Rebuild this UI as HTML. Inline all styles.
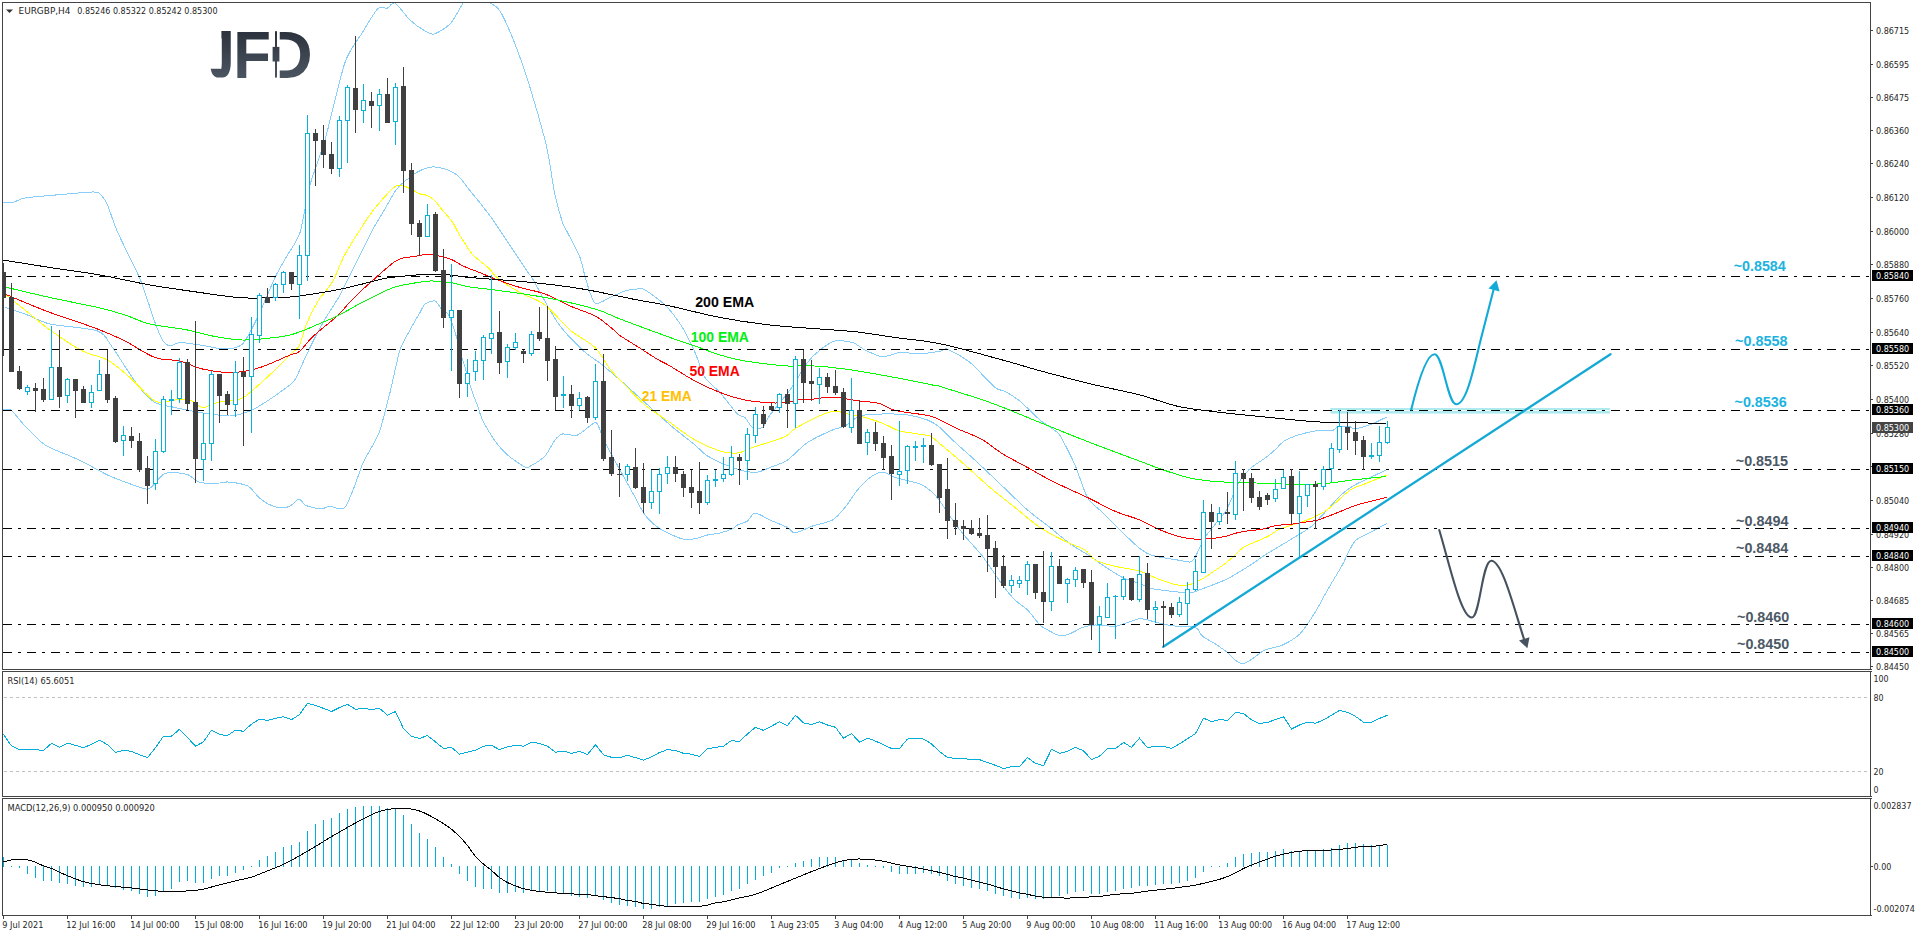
<!DOCTYPE html>
<html lang="en"><head><meta charset="utf-8"><title>EURGBP H4 chart</title>
<style>html,body{margin:0;padding:0;background:#fff;overflow:hidden}svg{display:block}text{font-family:"Liberation Sans", sans-serif;}text.s{font-family:"DejaVu Sans","Liberation Sans",sans-serif;}</style></head><body>
<svg width="1916" height="936" viewBox="0 0 1916 936">
<rect width="1916" height="936" fill="#fff"/>
<defs>
<clipPath id="cm"><rect x="3" y="3" width="1867" height="666"/></clipPath>
<clipPath id="cj"><polygon points="221.4,25 236,25 236,85 205,85 205,68.8 221.4,68.8"/></clipPath>
<clipPath id="cd"><rect x="279.75" y="20" width="40" height="70"/></clipPath>
<linearGradient id="lg" gradientUnits="userSpaceOnUse" x1="0" y1="31" x2="0" y2="78"><stop offset="0" stop-color="#2c323d"/><stop offset="1" stop-color="#4b5561"/></linearGradient>
<filter id="thick" x="-20%" y="-5%" width="140%" height="110%"><feMorphology operator="dilate" radius="2 0"/></filter>
</defs>
<g clip-path="url(#cm)">
<path fill="none" stroke="#87cefa" stroke-width="1" shape-rendering="crispEdges" d="M3.00,203.00C4.27,202.93 9.57,203.17 12.50,202.50C15.43,201.83 20.00,198.93 25.00,198.00C30.00,197.07 41.00,196.30 50.00,195.50C59.00,194.70 85.83,192.20 92.50,192.00C99.17,191.80 98.00,192.27 100.00,194.00C102.00,195.73 105.17,199.93 107.50,205.00C109.83,210.07 113.17,222.13 117.50,232.00C121.83,241.87 135.00,266.93 140.00,279.00C145.00,291.07 152.00,314.37 155.00,322.50C158.00,330.63 160.50,336.87 162.50,340.00C164.50,343.13 167.67,345.67 170.00,346.00C172.33,346.33 176.00,342.63 180.00,342.50C184.00,342.37 194.00,344.13 200.00,345.00C206.00,345.87 219.33,349.13 225.00,349.00C230.67,348.87 238.17,348.20 242.50,344.00C246.83,339.80 253.17,326.37 257.50,317.50C261.83,308.63 271.00,285.83 275.00,277.50C279.00,269.17 284.17,261.00 287.50,255.00C290.83,249.00 297.00,241.83 300.00,232.50C303.00,223.17 306.67,197.33 310.00,185.00C313.33,172.67 320.33,156.33 325.00,140.00C329.67,123.67 340.00,76.83 345.00,62.50C350.00,48.17 358.17,39.63 362.50,32.50C366.83,25.37 374.17,12.27 377.50,9.00C380.83,5.73 385.17,8.80 387.50,8.00C389.83,7.20 392.00,1.40 395.00,3.00C398.00,4.60 406.00,16.27 410.00,20.00C414.00,23.73 421.80,29.13 425.00,31.00C428.20,32.87 430.67,34.93 434.00,34.00C437.33,33.07 446.20,28.00 450.00,24.00C453.80,20.00 460.37,7.60 462.50,4.00C464.63,0.40 462.87,-2.07 466.00,-3.00C469.13,-3.93 482.80,-3.73 486.00,-3.00C489.20,-2.27 488.13,0.63 490.00,2.50C491.87,4.37 496.67,5.47 500.00,11.00C503.33,16.53 511.00,33.80 515.00,44.00C519.00,54.20 526.00,74.70 530.00,87.50C534.00,100.30 542.33,129.67 545.00,140.00C547.67,150.33 548.67,157.67 550.00,165.00C551.33,172.33 553.33,187.33 555.00,195.00C556.67,202.67 560.83,217.50 562.50,222.50C564.17,227.50 565.17,227.83 567.50,232.50C569.83,237.17 577.53,251.17 580.00,257.50C582.47,263.83 584.00,273.93 586.00,280.00C588.00,286.07 591.80,300.67 595.00,303.00C598.20,305.33 606.00,299.10 610.00,297.50C614.00,295.90 621.33,292.13 625.00,291.00C628.67,289.87 634.83,289.13 637.50,289.00C640.17,288.87 641.33,287.87 645.00,290.00C648.67,292.13 660.00,300.00 665.00,305.00C670.00,310.00 678.50,321.17 682.50,327.50C686.50,333.83 692.00,345.83 695.00,352.50C698.00,359.17 701.67,372.17 705.00,377.50C708.33,382.83 715.67,387.63 720.00,392.50C724.33,397.37 734.17,410.67 737.50,414.00C740.83,417.33 743.00,415.70 745.00,417.50C747.00,419.30 750.17,426.17 752.50,427.50C754.83,428.83 760.17,429.17 762.50,427.50C764.83,425.83 766.33,420.00 770.00,415.00C773.67,410.00 785.00,397.00 790.00,390.00C795.00,383.00 803.50,367.83 807.50,362.50C811.50,357.17 816.33,352.87 820.00,350.00C823.67,347.13 830.67,342.00 835.00,341.00C839.33,340.00 848.50,341.30 852.50,342.50C856.50,343.70 861.00,348.10 865.00,350.00C869.00,351.90 877.83,356.42 882.50,356.75C887.17,357.08 895.00,352.90 900.00,352.50C905.00,352.10 914.67,353.92 920.00,353.75C925.33,353.58 936.33,351.85 940.00,351.25C943.67,350.65 943.50,347.75 947.50,349.25C951.50,350.75 963.67,357.40 970.00,362.50C976.33,367.60 990.33,383.67 995.00,387.50C999.67,391.33 1001.67,389.42 1005.00,391.25C1008.33,393.08 1015.33,397.42 1020.00,401.25C1024.67,405.08 1035.00,415.83 1040.00,420.00C1045.00,424.17 1054.50,429.83 1057.50,432.50C1060.50,435.17 1060.17,435.67 1062.50,440.00C1064.83,444.33 1071.67,457.33 1075.00,465.00C1078.33,472.67 1083.83,491.17 1087.50,497.50C1091.17,503.83 1098.17,508.17 1102.50,512.50C1106.83,516.83 1115.00,525.17 1120.00,530.00C1125.00,534.83 1135.67,545.35 1140.00,548.75C1144.33,552.15 1147.50,554.00 1152.50,555.50C1157.50,557.00 1172.50,559.13 1177.50,560.00C1182.50,560.87 1187.67,562.33 1190.00,562.00C1192.33,561.67 1193.67,559.50 1195.00,557.50C1196.33,555.50 1198.53,549.87 1200.00,547.00C1201.47,544.13 1204.00,539.00 1206.00,536.00C1208.00,533.00 1212.39,527.78 1215.00,524.50C1217.61,521.22 1223.20,515.27 1225.60,511.40C1228.00,507.53 1231.20,499.42 1233.00,495.50C1234.80,491.58 1236.97,485.44 1239.10,482.00C1241.23,478.56 1246.37,472.33 1249.00,469.70C1251.63,467.07 1256.51,463.94 1258.80,462.30C1261.09,460.66 1264.07,459.04 1266.20,457.40C1268.33,455.76 1272.29,452.25 1274.80,450.00C1277.31,447.75 1281.31,442.67 1285.00,440.50C1288.69,438.33 1297.83,435.11 1302.50,433.75C1307.17,432.39 1315.93,430.76 1320.00,430.30C1324.07,429.84 1330.60,430.81 1333.00,430.30C1335.40,429.79 1335.87,427.01 1338.00,426.50C1340.13,425.99 1346.73,426.22 1349.00,426.50C1351.27,426.78 1352.07,428.88 1355.00,428.60C1357.93,428.32 1366.77,425.95 1371.00,424.40C1375.23,422.85 1384.61,417.99 1386.70,417.00"/>
<path fill="none" stroke="#87cefa" stroke-width="1" shape-rendering="crispEdges" d="M5.00,307.50C7.67,308.37 19.00,311.80 25.00,314.00C31.00,316.20 40.33,321.73 50.00,324.00C59.67,326.27 89.17,327.87 97.50,331.00C105.83,334.13 107.17,340.30 112.50,347.50C117.83,354.70 131.83,377.67 137.50,385.00C143.17,392.33 150.00,399.50 155.00,402.50C160.00,405.50 169.00,406.17 175.00,407.50C181.00,408.83 192.67,411.37 200.00,412.50C207.33,413.63 223.33,416.20 230.00,416.00C236.67,415.80 245.33,412.80 250.00,411.00C254.67,409.20 260.60,405.30 265.00,402.50C269.40,399.70 279.04,393.00 283.00,390.00C286.96,387.00 291.58,384.67 294.70,380.00C297.82,375.33 303.27,361.48 306.40,355.00C309.53,348.52 315.37,336.73 318.20,331.40C321.03,326.07 324.79,319.69 327.60,315.00C330.41,310.31 336.49,301.21 339.30,296.20C342.11,291.19 345.87,283.03 348.70,277.40C351.53,271.77 357.37,260.25 360.50,254.00C363.63,247.75 369.07,236.30 372.20,230.50C375.33,224.70 380.87,215.83 384.00,210.50C387.13,205.17 392.90,194.43 395.70,190.50C398.50,186.57 403.09,182.72 405.00,181.00C406.91,179.28 408.80,178.53 410.00,177.60C411.20,176.67 411.92,175.24 414.00,174.00C416.08,172.76 422.85,169.23 425.60,168.30C428.35,167.37 431.52,166.73 434.60,167.00C437.68,167.27 445.45,169.01 448.70,170.30C451.95,171.59 456.43,174.31 459.00,176.70C461.57,179.09 465.27,184.79 468.00,188.20C470.73,191.61 476.26,198.19 479.50,202.30C482.74,206.41 489.22,214.72 492.30,219.00C495.38,223.28 499.52,229.79 502.60,234.40C505.68,239.01 511.99,248.48 515.40,253.60C518.81,258.72 525.92,269.48 528.20,272.80C530.48,276.12 528.59,271.87 532.50,278.50C536.41,285.13 550.83,312.97 557.50,322.50C564.17,332.03 576.50,344.33 582.50,350.00C588.50,355.67 597.50,361.00 602.50,365.00C607.50,369.00 614.33,375.00 620.00,380.00C625.67,385.00 638.33,396.50 645.00,402.50C651.67,408.50 663.33,419.33 670.00,425.00C676.67,430.67 690.00,440.87 695.00,445.00C700.00,449.13 702.50,453.00 707.50,456.00C712.50,459.00 726.17,465.30 732.50,467.50C738.83,469.70 750.00,472.50 755.00,472.50C760.00,472.50 765.67,469.17 770.00,467.50C774.33,465.83 782.50,463.33 787.50,460.00C792.50,456.67 801.50,446.50 807.50,442.50C813.50,438.50 827.50,432.20 832.50,430.00C837.50,427.80 841.33,427.87 845.00,426.00C848.67,424.13 855.00,417.60 860.00,416.00C865.00,414.40 876.17,414.13 882.50,414.00C888.83,413.87 901.50,414.20 907.50,415.00C913.50,415.80 923.17,418.33 927.50,420.00C931.83,421.67 936.67,424.83 940.00,427.50C943.33,430.17 947.50,435.33 952.50,440.00C957.50,444.67 970.83,456.33 977.50,462.50C984.17,468.67 995.83,479.92 1002.50,486.25C1009.17,492.58 1021.17,504.50 1027.50,510.00C1033.83,515.50 1044.33,523.00 1050.00,527.50C1055.67,532.00 1064.67,539.92 1070.00,543.75C1075.33,547.58 1085.67,553.42 1090.00,556.25C1094.33,559.08 1098.17,562.17 1102.50,565.00C1106.83,567.83 1117.50,575.00 1122.50,577.50C1127.50,580.00 1136.00,582.25 1140.00,583.75C1144.00,585.25 1147.50,587.65 1152.50,588.75C1157.50,589.85 1172.50,591.43 1177.50,592.00C1182.50,592.57 1186.67,593.43 1190.00,593.00C1193.33,592.57 1197.50,590.65 1202.50,588.75C1207.50,586.85 1220.83,582.08 1227.50,578.75C1234.17,575.42 1247.50,566.92 1252.50,563.75C1257.50,560.58 1260.00,558.17 1265.00,555.00C1270.00,551.83 1284.00,543.67 1290.00,540.00C1296.00,536.33 1305.67,530.83 1310.00,527.50C1314.33,524.17 1318.50,519.20 1322.50,515.00C1326.50,510.80 1336.00,499.83 1340.00,496.00C1344.00,492.17 1349.17,488.38 1352.50,486.25C1355.83,484.12 1360.53,482.17 1365.00,480.00C1369.47,477.83 1383.20,471.33 1386.00,470.00"/>
<path fill="none" stroke="#87cefa" stroke-width="1" shape-rendering="crispEdges" d="M3.00,410.00C4.07,410.00 8.07,407.87 11.00,410.00C13.93,412.13 20.47,421.33 25.00,426.00C29.53,430.67 39.00,441.00 45.00,445.00C51.00,449.00 64.67,453.60 70.00,456.00C75.33,458.40 80.00,460.47 85.00,463.00C90.00,465.53 102.17,472.47 107.50,475.00C112.83,477.53 119.87,480.13 125.00,482.00C130.13,483.87 142.33,488.47 146.00,489.00C149.67,489.53 150.30,487.87 152.50,486.00C154.70,484.13 160.17,476.80 162.50,475.00C164.83,473.20 166.67,472.57 170.00,472.50C173.33,472.43 183.50,473.17 187.50,474.50C191.50,475.83 195.67,481.37 200.00,482.50C204.33,483.63 216.33,483.07 220.00,483.00C223.67,482.93 224.30,481.80 227.50,482.00C230.70,482.20 241.00,483.77 244.00,484.50C247.00,485.23 248.00,485.77 250.00,487.50C252.00,489.23 256.47,495.23 259.00,497.50C261.53,499.77 265.87,503.10 269.00,504.50C272.13,505.90 279.57,507.87 282.50,508.00C285.43,508.13 288.80,506.70 291.00,505.50C293.20,504.30 297.00,499.00 299.00,499.00C301.00,499.00 303.07,504.17 306.00,505.50C308.93,506.83 317.80,508.93 321.00,509.00C324.20,509.07 327.60,506.00 330.00,506.00C332.40,506.00 336.87,509.00 339.00,509.00C341.13,509.00 343.87,509.20 346.00,506.00C348.13,502.80 352.80,490.60 355.00,485.00C357.20,479.40 360.50,468.67 362.50,464.00C364.50,459.33 368.33,453.07 370.00,450.00C371.67,446.93 373.67,443.67 375.00,441.00C376.33,438.33 378.00,436.47 380.00,430.00C382.00,423.53 387.33,403.17 390.00,392.50C392.67,381.83 397.33,358.33 400.00,350.00C402.67,341.67 407.33,335.00 410.00,330.00C412.67,325.00 418.00,315.97 420.00,312.50C422.00,309.03 423.00,305.53 425.00,304.00C427.00,302.47 432.87,300.41 435.00,301.00C437.13,301.59 439.21,306.59 441.00,308.40C442.79,310.21 446.35,310.83 448.40,314.60C450.45,318.37 454.59,330.97 456.40,336.70C458.21,342.43 460.60,352.69 462.00,357.60C463.40,362.51 465.59,369.09 466.90,373.50C468.21,377.91 470.41,386.50 471.80,390.70C473.19,394.90 475.87,401.09 477.30,405.00C478.73,408.91 480.14,415.20 482.50,420.00C484.86,424.80 491.67,436.33 495.00,441.00C498.33,445.67 503.50,451.53 507.50,455.00C511.50,458.47 521.87,465.57 525.00,467.00C528.13,468.43 528.33,467.22 531.00,465.75C533.67,464.28 541.80,459.43 545.00,456.00C548.20,452.57 552.67,442.93 555.00,440.00C557.33,437.07 559.50,434.67 562.50,434.00C565.50,433.33 573.17,436.53 577.50,435.00C581.83,433.47 592.00,423.17 595.00,422.50C598.00,421.83 598.67,427.33 600.00,430.00C601.33,432.67 602.33,437.17 605.00,442.50C607.67,447.83 616.33,463.33 620.00,470.00C623.67,476.67 629.17,486.50 632.50,492.50C635.83,498.50 641.33,510.17 645.00,515.00C648.67,519.83 655.00,525.55 660.00,528.75C665.00,531.95 677.83,537.67 682.50,539.00C687.17,540.33 691.67,539.28 695.00,538.75C698.33,538.22 704.17,535.77 707.50,535.00C710.83,534.23 716.67,533.83 720.00,533.00C723.33,532.17 730.17,529.82 732.50,528.75C734.83,527.68 735.50,526.03 737.50,525.00C739.50,523.97 745.17,522.60 747.50,521.00C749.83,519.40 752.00,513.13 755.00,513.00C758.00,512.87 765.67,518.07 770.00,520.00C774.33,521.93 784.17,525.77 787.50,527.50C790.83,529.23 791.67,533.20 795.00,533.00C798.33,532.80 807.50,527.73 812.50,526.00C817.50,524.27 828.17,522.47 832.50,520.00C836.83,517.53 841.67,511.50 845.00,507.50C848.33,503.50 854.17,494.00 857.50,490.00C860.83,486.00 866.67,479.90 870.00,477.50C873.33,475.10 879.17,472.00 882.50,472.00C885.83,472.00 890.00,475.90 895.00,477.50C900.00,479.10 915.00,482.00 920.00,484.00C925.00,486.00 929.83,490.20 932.50,492.50C935.17,494.80 937.33,497.58 940.00,501.25C942.67,504.92 949.17,515.33 952.50,520.00C955.83,524.67 961.00,531.42 965.00,536.25C969.00,541.08 977.50,549.75 982.50,556.25C987.50,562.75 998.17,579.17 1002.50,585.00C1006.83,590.83 1011.67,596.67 1015.00,600.00C1018.33,603.33 1024.17,606.67 1027.50,610.00C1030.83,613.33 1037.00,622.17 1040.00,625.00C1043.00,627.83 1047.33,629.82 1050.00,631.25C1052.67,632.68 1057.33,635.42 1060.00,635.75C1062.67,636.08 1067.00,634.85 1070.00,633.75C1073.00,632.65 1079.17,628.67 1082.50,627.50C1085.83,626.33 1090.67,625.17 1095.00,625.00C1099.33,624.83 1110.67,626.58 1115.00,626.25C1119.33,625.92 1124.17,623.50 1127.50,622.50C1130.83,621.50 1136.67,618.92 1140.00,618.75C1143.33,618.58 1149.17,620.48 1152.50,621.25C1155.83,622.02 1161.67,623.83 1165.00,624.50C1168.33,625.17 1174.17,626.02 1177.50,626.25C1180.83,626.48 1187.33,625.92 1190.00,626.25C1192.67,626.58 1195.83,627.42 1197.50,628.75C1199.17,630.08 1200.17,634.25 1202.50,636.25C1204.83,638.25 1211.67,641.58 1215.00,643.75C1218.33,645.92 1224.83,650.33 1227.50,652.50C1230.17,654.67 1233.00,658.50 1235.00,660.00C1237.00,661.50 1240.17,663.92 1242.50,663.75C1244.83,663.58 1249.50,660.58 1252.50,658.75C1255.50,656.92 1261.00,651.83 1265.00,650.00C1269.00,648.17 1277.83,647.17 1282.50,645.00C1287.17,642.83 1295.67,638.08 1300.00,633.75C1304.33,629.42 1311.33,618.33 1315.00,612.50C1318.67,606.67 1323.86,596.33 1327.50,590.00C1331.14,583.67 1339.50,570.07 1342.30,565.00C1345.10,559.93 1346.70,555.29 1348.50,552.00C1350.30,548.71 1353.19,542.77 1355.80,540.30C1358.41,537.83 1363.99,535.74 1368.10,533.50C1372.21,531.26 1384.13,524.83 1386.60,523.50"/>
<path fill="none" stroke="#ffff00" stroke-width="1" shape-rendering="crispEdges" d="M5.00,294.00C8.33,296.67 17.50,304.00 25.00,310.00C32.50,316.00 40.42,323.17 50.00,330.00C59.58,336.83 72.92,346.00 82.50,351.00C92.08,356.00 99.58,355.58 107.50,360.00C115.42,364.42 122.08,370.67 130.00,377.50C137.92,384.33 147.50,397.25 155.00,401.00C162.50,404.75 169.17,400.17 175.00,400.00C180.83,399.83 185.42,398.75 190.00,400.00C194.58,401.25 197.92,407.08 202.50,407.50C207.08,407.92 211.25,403.92 217.50,402.50C223.75,401.08 234.58,400.67 240.00,399.00C245.42,397.33 244.17,397.33 250.00,392.50C255.83,387.67 268.00,376.58 275.00,370.00C282.00,363.42 287.93,357.08 292.00,353.00C296.07,348.92 297.00,350.27 299.40,345.50C301.80,340.73 303.27,331.83 306.40,324.40C309.53,316.97 313.88,307.95 318.20,300.90C322.52,293.85 328.00,289.53 332.30,282.10C336.60,274.67 339.70,264.52 344.00,256.30C348.30,248.08 353.40,240.23 358.10,232.80C362.80,225.37 367.88,217.57 372.20,211.70C376.52,205.83 380.28,201.72 384.00,197.60C387.72,193.48 391.83,189.07 394.50,187.00C397.17,184.93 398.25,185.32 400.00,185.20C401.75,185.08 402.67,185.37 405.00,186.30C407.33,187.23 411.42,189.52 414.00,190.80C416.58,192.08 418.33,193.22 420.50,194.00C422.67,194.78 424.65,194.43 427.00,195.50C429.35,196.57 432.05,197.98 434.60,200.40C437.15,202.82 439.30,206.37 442.30,210.00C445.30,213.63 450.03,218.57 452.60,222.20C455.17,225.83 455.80,228.50 457.70,231.80C459.60,235.10 461.65,238.37 464.00,242.00C466.35,245.63 468.80,250.17 471.80,253.60C474.80,257.03 479.02,260.03 482.00,262.60C484.98,265.17 487.13,266.43 489.70,269.00C492.27,271.57 492.35,274.08 497.40,278.00C502.45,281.92 512.07,288.00 520.00,292.50C527.93,297.00 536.67,298.75 545.00,305.00C553.33,311.25 561.67,322.92 570.00,330.00C578.33,337.08 588.33,341.00 595.00,347.50C601.67,354.00 605.00,362.75 610.00,369.00C615.00,375.25 619.17,379.00 625.00,385.00C630.83,391.00 637.50,398.75 645.00,405.00C652.50,411.25 661.67,416.67 670.00,422.50C678.33,428.33 686.67,435.25 695.00,440.00C703.33,444.75 712.92,448.83 720.00,451.00C727.08,453.17 732.08,453.58 737.50,453.00C742.92,452.42 747.08,449.33 752.50,447.50C757.92,445.67 765.42,443.47 770.00,442.00C774.58,440.53 777.05,439.88 780.00,438.70C782.95,437.52 785.13,436.60 787.70,434.90C790.27,433.20 791.35,431.07 795.40,428.50C799.45,425.93 807.08,421.97 812.00,419.50C816.92,417.03 821.07,415.12 824.90,413.70C828.73,412.28 831.37,411.00 835.00,411.00C838.63,411.00 843.03,412.93 846.70,413.70C850.37,414.47 853.17,414.75 857.00,415.60C860.83,416.45 865.43,417.52 869.70,418.80C873.97,420.08 877.68,421.27 882.60,423.30C887.52,425.33 894.93,429.50 899.20,431.00C903.47,432.50 904.57,431.70 908.20,432.30C911.83,432.90 917.37,433.98 921.00,434.60C924.63,435.22 926.83,434.48 930.00,436.00C933.17,437.52 934.17,438.92 940.00,443.75C945.83,448.58 956.67,457.71 965.00,465.00C973.33,472.29 981.67,480.42 990.00,487.50C998.33,494.58 1006.67,500.83 1015.00,507.50C1023.33,514.17 1031.67,521.88 1040.00,527.50C1048.33,533.12 1057.50,537.50 1065.00,541.25C1072.50,545.00 1080.00,546.88 1085.00,550.00C1090.00,553.12 1090.00,557.29 1095.00,560.00C1100.00,562.71 1107.50,564.38 1115.00,566.25C1122.50,568.12 1132.92,569.17 1140.00,571.25C1147.08,573.33 1151.25,576.46 1157.50,578.75C1163.75,581.04 1172.08,584.04 1177.50,585.00C1182.92,585.96 1185.83,585.54 1190.00,584.50C1194.17,583.46 1198.33,581.08 1202.50,578.75C1206.67,576.42 1211.55,572.79 1215.00,570.50C1218.45,568.21 1220.20,567.27 1223.20,565.00C1226.20,562.73 1229.53,559.90 1233.00,556.90C1236.47,553.90 1240.32,549.47 1244.00,547.00C1247.68,544.53 1251.00,543.93 1255.10,542.10C1259.20,540.27 1264.72,538.03 1268.60,536.00C1272.48,533.97 1274.50,531.75 1278.40,529.90C1282.30,528.05 1288.30,526.13 1292.00,524.90C1295.70,523.67 1297.13,523.72 1300.60,522.50C1304.07,521.28 1309.12,519.23 1312.80,517.60C1316.48,515.97 1319.62,514.55 1322.70,512.70C1325.78,510.85 1327.82,509.37 1331.30,506.50C1334.78,503.63 1340.12,498.47 1343.60,495.50C1347.08,492.53 1349.13,490.45 1352.20,488.70C1355.27,486.95 1358.32,486.43 1362.00,485.00C1365.68,483.57 1370.20,481.73 1374.30,480.10C1378.40,478.47 1384.55,476.02 1386.60,475.20"/>
<path fill="none" stroke="#ff0000" stroke-width="1" shape-rendering="crispEdges" d="M5.00,294.00C8.33,295.42 17.50,299.42 25.00,302.50C32.50,305.58 41.67,309.42 50.00,312.50C58.33,315.58 66.67,318.08 75.00,321.00C83.33,323.92 91.67,326.67 100.00,330.00C108.33,333.33 115.83,336.42 125.00,341.00C134.17,345.58 145.83,354.17 155.00,357.50C164.17,360.83 172.08,359.08 180.00,361.00C187.92,362.92 193.75,367.08 202.50,369.00C211.25,370.92 222.92,372.75 232.50,372.50C242.08,372.25 250.42,370.42 260.00,367.50C269.58,364.58 283.43,357.68 290.00,355.00C296.57,352.32 295.48,354.57 299.40,351.40C303.32,348.23 307.23,341.87 313.50,336.00C319.77,330.13 331.13,321.65 337.00,316.20C342.87,310.75 344.78,307.42 348.70,303.30C352.62,299.18 356.58,295.22 360.50,291.50C364.42,287.78 368.28,284.52 372.20,281.00C376.12,277.48 380.08,273.73 384.00,270.40C387.92,267.07 392.20,263.15 395.70,261.00C399.20,258.85 402.15,258.20 405.00,257.50C407.85,256.80 409.37,257.30 412.80,256.80C416.23,256.30 422.40,254.88 425.60,254.50C428.80,254.12 429.22,254.12 432.00,254.50C434.78,254.88 439.08,255.98 442.30,256.80C445.52,257.62 447.68,257.80 451.30,259.40C454.92,261.00 459.72,264.38 464.00,266.40C468.28,268.42 472.72,269.78 477.00,271.50C481.28,273.22 486.70,275.45 489.70,276.70C492.70,277.95 489.95,277.20 495.00,279.00C500.05,280.80 511.67,285.00 520.00,287.50C528.33,290.00 536.67,290.92 545.00,294.00C553.33,297.08 561.52,302.27 570.00,306.00C578.48,309.73 588.52,312.32 595.90,316.40C603.28,320.48 610.28,327.30 614.30,330.50C618.32,333.70 615.72,332.65 620.00,335.60C624.28,338.55 633.85,344.30 640.00,348.20C646.15,352.10 651.90,356.03 656.90,359.00C661.90,361.97 663.65,362.33 670.00,366.00C676.35,369.67 686.67,376.58 695.00,381.00C703.33,385.42 711.67,389.33 720.00,392.50C728.33,395.67 736.67,398.28 745.00,400.00C753.33,401.72 764.17,402.33 770.00,402.80C775.83,403.27 776.20,403.02 780.00,402.80C783.80,402.58 789.63,402.00 792.80,401.50C795.97,401.00 795.80,400.18 799.00,399.80C802.20,399.42 807.68,399.58 812.00,399.20C816.32,398.82 820.40,397.82 824.90,397.50C829.40,397.18 835.37,397.05 839.00,397.30C842.63,397.55 843.28,398.40 846.70,399.00C850.12,399.60 854.62,400.27 859.50,400.90C864.38,401.53 872.15,402.17 876.00,402.80C879.85,403.43 880.02,403.63 882.60,404.70C885.18,405.77 888.73,408.12 891.50,409.20C894.27,410.28 894.28,410.33 899.20,411.20C904.12,412.07 915.43,413.48 921.00,414.40C926.57,415.32 928.32,415.22 932.60,416.70C936.88,418.18 942.22,421.13 946.70,423.30C951.18,425.47 955.23,427.77 959.50,429.70C963.77,431.63 968.05,432.97 972.30,434.90C976.55,436.83 979.97,438.16 985.00,441.30C990.03,444.44 995.42,449.38 1002.50,453.75C1009.58,458.12 1019.17,462.92 1027.50,467.50C1035.83,472.08 1042.08,476.04 1052.50,481.25C1062.92,486.46 1079.58,493.75 1090.00,498.75C1100.42,503.75 1106.67,507.71 1115.00,511.25C1123.33,514.79 1132.92,517.08 1140.00,520.00C1147.08,522.92 1151.25,526.04 1157.50,528.75C1163.75,531.46 1172.08,534.62 1177.50,536.25C1182.92,537.88 1186.48,537.99 1190.00,538.50C1193.52,539.01 1194.50,539.35 1198.60,539.30C1202.70,539.25 1209.88,538.75 1214.60,538.20C1219.32,537.65 1222.82,536.98 1226.90,536.00C1230.98,535.02 1235.02,533.22 1239.10,532.30C1243.18,531.38 1247.50,531.02 1251.40,530.50C1255.30,529.98 1258.40,530.02 1262.50,529.20C1266.60,528.38 1271.08,526.45 1276.00,525.60C1280.92,524.75 1286.88,524.72 1292.00,524.10C1297.12,523.48 1302.40,522.58 1306.70,521.90C1311.00,521.22 1312.68,521.53 1317.80,520.00C1322.92,518.47 1331.07,515.15 1337.40,512.70C1343.73,510.25 1349.65,507.35 1355.80,505.30C1361.95,503.25 1369.17,501.73 1374.30,500.40C1379.43,499.07 1384.55,497.82 1386.60,497.30"/>
<path fill="none" stroke="#00ff00" stroke-width="1" shape-rendering="crispEdges" d="M5.00,287.00C12.50,288.75 34.17,294.00 50.00,297.50C65.83,301.00 87.50,305.08 100.00,308.00C112.50,310.92 116.67,312.33 125.00,315.00C133.33,317.67 139.58,321.50 150.00,324.00C160.42,326.50 177.08,328.00 187.50,330.00C197.92,332.00 203.33,334.33 212.50,336.00C221.67,337.67 232.08,339.75 242.50,340.00C252.92,340.25 267.08,338.33 275.00,337.50C282.92,336.67 285.17,336.20 290.00,335.00C294.83,333.80 298.92,332.27 304.00,330.30C309.08,328.33 315.00,325.55 320.50,323.20C326.00,320.85 330.33,319.52 337.00,316.20C343.67,312.88 352.67,307.42 360.50,303.30C368.33,299.18 378.13,294.25 384.00,291.50C389.87,288.75 391.37,288.08 395.70,286.80C400.03,285.52 404.28,284.77 410.00,283.80C415.72,282.83 423.33,281.22 430.00,281.00C436.67,280.78 443.33,281.50 450.00,282.50C456.67,283.50 462.50,285.75 470.00,287.00C477.50,288.25 482.50,288.25 495.00,290.00C507.50,291.75 528.33,294.33 545.00,297.50C561.67,300.67 582.50,305.42 595.00,309.00C607.50,312.58 607.50,314.25 620.00,319.00C632.50,323.75 657.50,333.00 670.00,337.50C682.50,342.00 686.67,343.08 695.00,346.00C703.33,348.92 711.67,352.50 720.00,355.00C728.33,357.50 733.75,359.17 745.00,361.00C756.25,362.83 777.08,365.25 787.50,366.00C797.92,366.75 797.92,365.00 807.50,365.50C817.08,366.00 830.42,367.00 845.00,369.00C859.58,371.00 880.42,374.83 895.00,377.50C909.58,380.17 925.00,383.50 932.50,385.00C940.00,386.50 932.50,383.58 940.00,386.50C949.58,389.42 973.33,396.50 990.00,402.50C1006.67,408.50 1023.33,415.83 1040.00,422.50C1056.67,429.17 1073.33,436.04 1090.00,442.50C1106.67,448.96 1127.50,456.58 1140.00,461.25C1152.50,465.92 1156.67,467.71 1165.00,470.50C1173.33,473.29 1181.67,476.17 1190.00,478.00C1198.33,479.83 1206.67,480.75 1215.00,481.50C1223.33,482.25 1231.67,482.21 1240.00,482.50C1248.33,482.79 1254.58,482.92 1265.00,483.25C1275.42,483.58 1292.08,484.50 1302.50,484.50C1312.92,484.50 1319.17,484.00 1327.50,483.25C1335.83,482.50 1342.75,481.12 1352.50,480.00C1362.25,478.88 1380.42,477.08 1386.00,476.50"/>
<path fill="none" stroke="#000000" stroke-width="1" shape-rendering="crispEdges" d="M3.00,260.00C10.83,261.25 33.83,265.00 50.00,267.50C66.17,270.00 83.33,272.08 100.00,275.00C116.67,277.92 133.33,282.08 150.00,285.00C166.67,287.92 185.42,290.42 200.00,292.50C214.58,294.58 227.08,296.58 237.50,297.50C247.92,298.42 253.75,298.08 262.50,298.00C271.25,297.92 281.50,297.68 290.00,297.00C298.50,296.32 305.67,295.08 313.50,293.90C321.33,292.72 329.17,291.47 337.00,289.90C344.83,288.33 352.67,286.38 360.50,284.50C368.33,282.62 377.75,279.90 384.00,278.60C390.25,277.30 391.17,277.38 398.00,276.70C404.83,276.02 416.33,274.78 425.00,274.50C433.67,274.22 442.50,274.50 450.00,275.00C457.50,275.50 456.25,276.25 470.00,277.50C483.75,278.75 513.75,280.58 532.50,282.50C551.25,284.42 565.83,286.25 582.50,289.00C599.17,291.75 617.92,296.17 632.50,299.00C647.08,301.83 655.42,302.92 670.00,306.00C684.58,309.08 703.33,314.33 720.00,317.50C736.67,320.67 753.33,323.08 770.00,325.00C786.67,326.92 805.42,327.83 820.00,329.00C834.58,330.17 845.00,330.58 857.50,332.00C870.00,333.42 881.25,335.54 895.00,337.50C908.75,339.46 922.08,340.00 940.00,343.75C957.92,347.50 985.83,355.50 1002.50,360.00C1019.17,364.50 1025.42,366.79 1040.00,370.75C1054.58,374.71 1073.33,379.71 1090.00,383.75C1106.67,387.79 1125.42,391.25 1140.00,395.00C1154.58,398.75 1165.00,403.46 1177.50,406.25C1190.00,409.04 1200.42,409.96 1215.00,411.75C1229.58,413.54 1248.33,415.33 1265.00,417.00C1281.67,418.67 1300.42,420.79 1315.00,421.75C1329.58,422.71 1340.67,422.50 1352.50,422.75C1364.33,423.00 1380.42,423.17 1386.00,423.25"/>
<rect x="1330.5" y="408" width="279.5" height="5.6" fill="#aeeaee"/>
<rect x="1330.5" y="410" width="279.5" height="1" fill="#fff" opacity=".8"/>
<line x1="3" y1="276.5" x2="1870" y2="276.5" stroke="#000" stroke-width="1" stroke-dasharray="9 6 3 6" shape-rendering="crispEdges"/>
<line x1="3" y1="349.5" x2="1870" y2="349.5" stroke="#000" stroke-width="1" stroke-dasharray="9 6 3 6" shape-rendering="crispEdges"/>
<line x1="3" y1="410.5" x2="1870" y2="410.5" stroke="#000" stroke-width="1" stroke-dasharray="9 6 3 6" shape-rendering="crispEdges"/>
<line x1="3" y1="469.5" x2="1870" y2="469.5" stroke="#000" stroke-width="1" stroke-dasharray="9 6 3 6" shape-rendering="crispEdges"/>
<line x1="3" y1="528.5" x2="1870" y2="528.5" stroke="#000" stroke-width="1" stroke-dasharray="9 6 3 6" shape-rendering="crispEdges"/>
<line x1="3" y1="556.5" x2="1870" y2="556.5" stroke="#000" stroke-width="1" stroke-dasharray="9 6 3 6" shape-rendering="crispEdges"/>
<line x1="3" y1="624.5" x2="1870" y2="624.5" stroke="#000" stroke-width="1" stroke-dasharray="9 6 3 6" shape-rendering="crispEdges"/>
<line x1="3" y1="652.5" x2="1870" y2="652.5" stroke="#000" stroke-width="1" stroke-dasharray="9 6 3 6" shape-rendering="crispEdges"/>
<line x1="1163.25" y1="646.75" x2="1610.5" y2="354.25" stroke="#14a9d5" stroke-width="2.3" stroke-linecap="round"/>
<path d="M1411.25,409.5 C1417,386 1426,354.25 1434.5,354.25 C1443,354.25 1447.5,404.25 1456.25,404.25 C1466,404.25 1473,372 1480,342.5 L1494,288" fill="none" stroke="#12aad7" stroke-width="2.1" stroke-linecap="round"/>
<polygon points="1496.5,280.2 1499.6,291.6 1488.5,288.4" fill="#12aad7"/>
<path d="M1439.25,530 C1450,566 1461,617.5 1471.75,617.5 C1480,617.5 1482,560.75 1491.25,560.75 C1502,560.75 1513,605 1524.3,640" fill="none" stroke="#46525f" stroke-width="2.1" stroke-linecap="round"/>
<polygon points="1527.4,648.2 1519,640.6 1529.5,637.2" fill="#46525f"/>
<g shape-rendering="crispEdges"><rect x="3.0" y="263" width="1" height="93" fill="#404040"/><rect x="1.0" y="272" width="5" height="26" fill="#404040"/><rect x="11.0" y="283" width="1" height="88" fill="#404040"/><rect x="9.0" y="297" width="5" height="75" fill="#404040"/><rect x="19.0" y="366" width="1" height="24" fill="#404040"/><rect x="17.0" y="371" width="5" height="18" fill="#404040"/><rect x="27.0" y="385" width="1" height="10" fill="#0bb0d9"/><rect x="25.5" y="387.5" width="4" height="4" fill="#fff" stroke="#0bb0d9" stroke-width="1"/><rect x="35.0" y="383" width="1" height="29" fill="#404040"/><rect x="33.0" y="388" width="5" height="3" fill="#404040"/><rect x="43.0" y="378" width="1" height="24" fill="#404040"/><rect x="41.0" y="389" width="5" height="11" fill="#404040"/><rect x="51.0" y="326" width="1" height="73" fill="#0bb0d9"/><rect x="49.5" y="367.5" width="4" height="32" fill="#fff" stroke="#0bb0d9" stroke-width="1"/><rect x="59.0" y="330" width="1" height="78" fill="#404040"/><rect x="57.0" y="367" width="5" height="30" fill="#404040"/><rect x="67.0" y="378" width="1" height="25" fill="#0bb0d9"/><rect x="65.5" y="379.5" width="4" height="16" fill="#fff" stroke="#0bb0d9" stroke-width="1"/><rect x="75.0" y="379" width="1" height="39" fill="#404040"/><rect x="73.0" y="379" width="5" height="12" fill="#404040"/><rect x="83.0" y="386" width="1" height="17" fill="#404040"/><rect x="81.0" y="389" width="5" height="14" fill="#404040"/><rect x="91.0" y="385" width="1" height="23" fill="#0bb0d9"/><rect x="89.5" y="392.5" width="4" height="10" fill="#fff" stroke="#0bb0d9" stroke-width="1"/><rect x="99.0" y="360" width="1" height="31" fill="#0bb0d9"/><rect x="97.5" y="374.5" width="4" height="16" fill="#fff" stroke="#0bb0d9" stroke-width="1"/><rect x="107.0" y="350" width="1" height="53" fill="#404040"/><rect x="105.0" y="374" width="5" height="26" fill="#404040"/><rect x="115.0" y="396" width="1" height="47" fill="#404040"/><rect x="113.0" y="398" width="5" height="44" fill="#404040"/><rect x="123.0" y="426" width="1" height="30" fill="#0bb0d9"/><rect x="121.5" y="435.5" width="4" height="5" fill="#fff" stroke="#0bb0d9" stroke-width="1"/><rect x="131.0" y="427" width="1" height="21" fill="#404040"/><rect x="129.0" y="436" width="5" height="5" fill="#404040"/><rect x="139.0" y="433" width="1" height="39" fill="#404040"/><rect x="137.0" y="441" width="5" height="29" fill="#404040"/><rect x="147.0" y="456" width="1" height="48" fill="#404040"/><rect x="145.0" y="468" width="5" height="18" fill="#404040"/><rect x="155.0" y="439" width="1" height="51" fill="#0bb0d9"/><rect x="153.5" y="451.5" width="4" height="32" fill="#fff" stroke="#0bb0d9" stroke-width="1"/><rect x="163.0" y="396" width="1" height="57" fill="#0bb0d9"/><rect x="161.5" y="399.5" width="4" height="52" fill="#fff" stroke="#0bb0d9" stroke-width="1"/><rect x="171.0" y="390" width="1" height="25" fill="#0bb0d9"/><rect x="169.0" y="399" width="5" height="2" fill="#0bb0d9"/><rect x="179.0" y="358" width="1" height="45" fill="#0bb0d9"/><rect x="177.5" y="362.5" width="4" height="36" fill="#fff" stroke="#0bb0d9" stroke-width="1"/><rect x="187.0" y="359" width="1" height="51" fill="#404040"/><rect x="185.0" y="362" width="5" height="42" fill="#404040"/><rect x="195.0" y="321" width="1" height="162" fill="#404040"/><rect x="193.0" y="402" width="5" height="57" fill="#404040"/><rect x="203.0" y="413" width="1" height="68" fill="#0bb0d9"/><rect x="201.5" y="443.5" width="4" height="16" fill="#fff" stroke="#0bb0d9" stroke-width="1"/><rect x="211.0" y="371" width="1" height="90" fill="#0bb0d9"/><rect x="209.5" y="374.5" width="4" height="69" fill="#fff" stroke="#0bb0d9" stroke-width="1"/><rect x="219.0" y="374" width="1" height="49" fill="#404040"/><rect x="217.0" y="374" width="5" height="22" fill="#404040"/><rect x="227.0" y="391" width="1" height="24" fill="#404040"/><rect x="225.0" y="394" width="5" height="11" fill="#404040"/><rect x="235.0" y="361" width="1" height="56" fill="#0bb0d9"/><rect x="233.5" y="372.5" width="4" height="32" fill="#fff" stroke="#0bb0d9" stroke-width="1"/><rect x="243.0" y="357" width="1" height="89" fill="#404040"/><rect x="241.0" y="372" width="5" height="5" fill="#404040"/><rect x="251.0" y="317" width="1" height="116" fill="#0bb0d9"/><rect x="249.5" y="334.5" width="4" height="42" fill="#fff" stroke="#0bb0d9" stroke-width="1"/><rect x="259.0" y="293" width="1" height="50" fill="#0bb0d9"/><rect x="257.5" y="295.5" width="4" height="40" fill="#fff" stroke="#0bb0d9" stroke-width="1"/><rect x="267.0" y="288" width="1" height="15" fill="#404040"/><rect x="265.0" y="297" width="5" height="6" fill="#404040"/><rect x="275.0" y="283" width="1" height="18" fill="#0bb0d9"/><rect x="273.5" y="284.5" width="4" height="13" fill="#fff" stroke="#0bb0d9" stroke-width="1"/><rect x="283.0" y="271" width="1" height="22" fill="#0bb0d9"/><rect x="281.5" y="272.5" width="4" height="12" fill="#fff" stroke="#0bb0d9" stroke-width="1"/><rect x="291.0" y="272" width="1" height="18" fill="#404040"/><rect x="289.0" y="272" width="5" height="12" fill="#404040"/><rect x="299.0" y="245" width="1" height="74" fill="#0bb0d9"/><rect x="297.5" y="255.5" width="4" height="29" fill="#fff" stroke="#0bb0d9" stroke-width="1"/><rect x="307.0" y="115" width="1" height="166" fill="#0bb0d9"/><rect x="305.5" y="133.5" width="4" height="122" fill="#fff" stroke="#0bb0d9" stroke-width="1"/><rect x="315.0" y="129" width="1" height="57" fill="#404040"/><rect x="313.0" y="133" width="5" height="8" fill="#404040"/><rect x="323.0" y="125" width="1" height="43" fill="#404040"/><rect x="321.0" y="140" width="5" height="15" fill="#404040"/><rect x="331.0" y="142" width="1" height="32" fill="#404040"/><rect x="329.0" y="154" width="5" height="15" fill="#404040"/><rect x="339.0" y="116" width="1" height="61" fill="#0bb0d9"/><rect x="337.5" y="120.5" width="4" height="48" fill="#fff" stroke="#0bb0d9" stroke-width="1"/><rect x="347.0" y="85" width="1" height="78" fill="#0bb0d9"/><rect x="345.5" y="87.5" width="4" height="33" fill="#fff" stroke="#0bb0d9" stroke-width="1"/><rect x="355.0" y="36" width="1" height="97" fill="#404040"/><rect x="353.0" y="88" width="5" height="22" fill="#404040"/><rect x="363.0" y="84" width="1" height="39" fill="#0bb0d9"/><rect x="361.5" y="100.5" width="4" height="10" fill="#fff" stroke="#0bb0d9" stroke-width="1"/><rect x="371.0" y="92" width="1" height="36" fill="#404040"/><rect x="369.0" y="101" width="5" height="5" fill="#404040"/><rect x="379.0" y="89" width="1" height="42" fill="#0bb0d9"/><rect x="377.5" y="94.5" width="4" height="11" fill="#fff" stroke="#0bb0d9" stroke-width="1"/><rect x="387.0" y="78" width="1" height="45" fill="#404040"/><rect x="385.0" y="94" width="5" height="29" fill="#404040"/><rect x="395.0" y="83" width="1" height="62" fill="#0bb0d9"/><rect x="393.5" y="87.5" width="4" height="34" fill="#fff" stroke="#0bb0d9" stroke-width="1"/><rect x="403.0" y="67" width="1" height="126" fill="#404040"/><rect x="401.0" y="86" width="5" height="85" fill="#404040"/><rect x="411.0" y="163" width="1" height="72" fill="#404040"/><rect x="409.0" y="170" width="5" height="54" fill="#404040"/><rect x="419.0" y="220" width="1" height="36" fill="#404040"/><rect x="417.0" y="223" width="5" height="14" fill="#404040"/><rect x="427.0" y="204" width="1" height="33" fill="#0bb0d9"/><rect x="425.5" y="215.5" width="4" height="21" fill="#fff" stroke="#0bb0d9" stroke-width="1"/><rect x="435.0" y="212" width="1" height="60" fill="#404040"/><rect x="433.0" y="214" width="5" height="57" fill="#404040"/><rect x="443.0" y="249" width="1" height="79" fill="#404040"/><rect x="441.0" y="270" width="5" height="48" fill="#404040"/><rect x="451.0" y="264" width="1" height="107" fill="#0bb0d9"/><rect x="449.5" y="310.5" width="4" height="7" fill="#fff" stroke="#0bb0d9" stroke-width="1"/><rect x="459.0" y="310" width="1" height="88" fill="#404040"/><rect x="457.0" y="310" width="5" height="74" fill="#404040"/><rect x="467.0" y="359" width="1" height="38" fill="#0bb0d9"/><rect x="465.5" y="373.5" width="4" height="10" fill="#fff" stroke="#0bb0d9" stroke-width="1"/><rect x="475.0" y="351" width="1" height="30" fill="#0bb0d9"/><rect x="473.5" y="360.5" width="4" height="11" fill="#fff" stroke="#0bb0d9" stroke-width="1"/><rect x="483.0" y="335" width="1" height="45" fill="#0bb0d9"/><rect x="481.5" y="337.5" width="4" height="23" fill="#fff" stroke="#0bb0d9" stroke-width="1"/><rect x="491.0" y="275" width="1" height="79" fill="#0bb0d9"/><rect x="489.5" y="333.5" width="4" height="5" fill="#fff" stroke="#0bb0d9" stroke-width="1"/><rect x="499.0" y="311" width="1" height="63" fill="#404040"/><rect x="497.0" y="332" width="5" height="31" fill="#404040"/><rect x="507.0" y="344" width="1" height="34" fill="#0bb0d9"/><rect x="505.5" y="347.5" width="4" height="14" fill="#fff" stroke="#0bb0d9" stroke-width="1"/><rect x="515.0" y="333" width="1" height="17" fill="#0bb0d9"/><rect x="513.5" y="342.5" width="4" height="5" fill="#fff" stroke="#0bb0d9" stroke-width="1"/><rect x="523.0" y="350" width="1" height="13" fill="#404040"/><rect x="521.0" y="351" width="5" height="3" fill="#404040"/><rect x="531.0" y="331" width="1" height="25" fill="#0bb0d9"/><rect x="529.5" y="334.5" width="4" height="19" fill="#fff" stroke="#0bb0d9" stroke-width="1"/><rect x="539.0" y="307" width="1" height="34" fill="#404040"/><rect x="537.0" y="332" width="5" height="7" fill="#404040"/><rect x="547.0" y="306" width="1" height="75" fill="#404040"/><rect x="545.0" y="338" width="5" height="23" fill="#404040"/><rect x="555.0" y="346" width="1" height="64" fill="#404040"/><rect x="553.0" y="359" width="5" height="38" fill="#404040"/><rect x="563.0" y="376" width="1" height="32" fill="#0bb0d9"/><rect x="561.0" y="394" width="5" height="2" fill="#0bb0d9"/><rect x="571.0" y="385" width="1" height="33" fill="#404040"/><rect x="569.0" y="394" width="5" height="12" fill="#404040"/><rect x="579.0" y="392" width="1" height="18" fill="#0bb0d9"/><rect x="577.5" y="398.5" width="4" height="7" fill="#fff" stroke="#0bb0d9" stroke-width="1"/><rect x="587.0" y="396" width="1" height="27" fill="#404040"/><rect x="585.0" y="397" width="5" height="21" fill="#404040"/><rect x="595.0" y="364" width="1" height="56" fill="#0bb0d9"/><rect x="593.5" y="381.5" width="4" height="36" fill="#fff" stroke="#0bb0d9" stroke-width="1"/><rect x="603.0" y="354" width="1" height="107" fill="#404040"/><rect x="601.0" y="381" width="5" height="78" fill="#404040"/><rect x="611.0" y="430" width="1" height="46" fill="#404040"/><rect x="609.0" y="457" width="5" height="17" fill="#404040"/><rect x="619.0" y="463" width="1" height="34" fill="#404040"/><rect x="617.0" y="474" width="5" height="1" fill="#404040"/><rect x="627.0" y="464" width="1" height="17" fill="#0bb0d9"/><rect x="625.5" y="466.5" width="4" height="8" fill="#fff" stroke="#0bb0d9" stroke-width="1"/><rect x="635.0" y="448" width="1" height="41" fill="#404040"/><rect x="633.0" y="467" width="5" height="21" fill="#404040"/><rect x="643.0" y="463" width="1" height="50" fill="#404040"/><rect x="641.0" y="487" width="5" height="16" fill="#404040"/><rect x="651.0" y="470" width="1" height="39" fill="#0bb0d9"/><rect x="649.5" y="491.5" width="4" height="11" fill="#fff" stroke="#0bb0d9" stroke-width="1"/><rect x="659.0" y="468" width="1" height="46" fill="#0bb0d9"/><rect x="657.5" y="474.5" width="4" height="17" fill="#fff" stroke="#0bb0d9" stroke-width="1"/><rect x="667.0" y="456" width="1" height="28" fill="#0bb0d9"/><rect x="665.5" y="467.5" width="4" height="6" fill="#fff" stroke="#0bb0d9" stroke-width="1"/><rect x="675.0" y="456" width="1" height="26" fill="#404040"/><rect x="673.0" y="467" width="5" height="7" fill="#404040"/><rect x="683.0" y="471" width="1" height="26" fill="#404040"/><rect x="681.0" y="474" width="5" height="14" fill="#404040"/><rect x="691.0" y="470" width="1" height="38" fill="#404040"/><rect x="689.0" y="487" width="5" height="6" fill="#404040"/><rect x="699.0" y="462" width="1" height="52" fill="#404040"/><rect x="697.0" y="491" width="5" height="12" fill="#404040"/><rect x="707.0" y="475" width="1" height="30" fill="#0bb0d9"/><rect x="705.5" y="480.5" width="4" height="22" fill="#fff" stroke="#0bb0d9" stroke-width="1"/><rect x="715.0" y="470" width="1" height="17" fill="#0bb0d9"/><rect x="713.0" y="479" width="5" height="2" fill="#0bb0d9"/><rect x="723.0" y="457" width="1" height="25" fill="#0bb0d9"/><rect x="721.5" y="474.5" width="4" height="4" fill="#fff" stroke="#0bb0d9" stroke-width="1"/><rect x="731.0" y="446" width="1" height="30" fill="#0bb0d9"/><rect x="729.5" y="457.5" width="4" height="17" fill="#fff" stroke="#0bb0d9" stroke-width="1"/><rect x="739.0" y="454" width="1" height="31" fill="#404040"/><rect x="737.0" y="457" width="5" height="4" fill="#404040"/><rect x="747.0" y="428" width="1" height="52" fill="#0bb0d9"/><rect x="745.5" y="434.5" width="4" height="26" fill="#fff" stroke="#0bb0d9" stroke-width="1"/><rect x="755.0" y="407" width="1" height="36" fill="#0bb0d9"/><rect x="753.5" y="414.5" width="4" height="21" fill="#fff" stroke="#0bb0d9" stroke-width="1"/><rect x="763.0" y="406" width="1" height="22" fill="#404040"/><rect x="761.0" y="414" width="5" height="10" fill="#404040"/><rect x="771.0" y="403" width="1" height="8" fill="#404040"/><rect x="769.0" y="406" width="5" height="4" fill="#404040"/><rect x="779.0" y="393" width="1" height="20" fill="#0bb0d9"/><rect x="777.5" y="394.5" width="4" height="13" fill="#fff" stroke="#0bb0d9" stroke-width="1"/><rect x="787.0" y="389" width="1" height="39" fill="#404040"/><rect x="785.0" y="394" width="5" height="10" fill="#404040"/><rect x="795.0" y="356" width="1" height="72" fill="#0bb0d9"/><rect x="793.5" y="359.5" width="4" height="44" fill="#fff" stroke="#0bb0d9" stroke-width="1"/><rect x="803.0" y="350" width="1" height="53" fill="#404040"/><rect x="801.0" y="359" width="5" height="24" fill="#404040"/><rect x="811.0" y="360" width="1" height="41" fill="#404040"/><rect x="809.0" y="381" width="5" height="3" fill="#404040"/><rect x="819.0" y="368" width="1" height="36" fill="#0bb0d9"/><rect x="817.5" y="377.5" width="4" height="7" fill="#fff" stroke="#0bb0d9" stroke-width="1"/><rect x="827.0" y="373" width="1" height="20" fill="#404040"/><rect x="825.0" y="377" width="5" height="10" fill="#404040"/><rect x="835.0" y="370" width="1" height="25" fill="#404040"/><rect x="833.0" y="386" width="5" height="7" fill="#404040"/><rect x="843.0" y="388" width="1" height="40" fill="#404040"/><rect x="841.0" y="392" width="5" height="35" fill="#404040"/><rect x="851.0" y="378" width="1" height="55" fill="#0bb0d9"/><rect x="849.5" y="410.5" width="4" height="17" fill="#fff" stroke="#0bb0d9" stroke-width="1"/><rect x="859.0" y="400" width="1" height="43" fill="#404040"/><rect x="857.0" y="410" width="5" height="34" fill="#404040"/><rect x="867.0" y="429" width="1" height="26" fill="#0bb0d9"/><rect x="865.5" y="432.5" width="4" height="10" fill="#fff" stroke="#0bb0d9" stroke-width="1"/><rect x="875.0" y="422" width="1" height="29" fill="#404040"/><rect x="873.0" y="432" width="5" height="12" fill="#404040"/><rect x="883.0" y="436" width="1" height="34" fill="#404040"/><rect x="881.0" y="443" width="5" height="15" fill="#404040"/><rect x="891.0" y="445" width="1" height="55" fill="#404040"/><rect x="889.0" y="456" width="5" height="18" fill="#404040"/><rect x="899.0" y="421" width="1" height="65" fill="#0bb0d9"/><rect x="897.5" y="471.5" width="4" height="3" fill="#fff" stroke="#0bb0d9" stroke-width="1"/><rect x="907.0" y="445" width="1" height="39" fill="#0bb0d9"/><rect x="905.5" y="446.5" width="4" height="24" fill="#fff" stroke="#0bb0d9" stroke-width="1"/><rect x="915.0" y="441" width="1" height="20" fill="#0bb0d9"/><rect x="913.0" y="446" width="5" height="2" fill="#0bb0d9"/><rect x="923.0" y="438" width="1" height="25" fill="#0bb0d9"/><rect x="921.0" y="445" width="5" height="2" fill="#0bb0d9"/><rect x="931.0" y="433" width="1" height="33" fill="#404040"/><rect x="929.0" y="445" width="5" height="20" fill="#404040"/><rect x="939.0" y="464" width="1" height="49" fill="#404040"/><rect x="937.0" y="464" width="5" height="34" fill="#404040"/><rect x="947.0" y="458" width="1" height="81" fill="#404040"/><rect x="945.0" y="489" width="5" height="32" fill="#404040"/><rect x="955.0" y="503" width="1" height="32" fill="#404040"/><rect x="953.0" y="520" width="5" height="7" fill="#404040"/><rect x="963.0" y="520" width="1" height="20" fill="#404040"/><rect x="961.0" y="526" width="5" height="3" fill="#404040"/><rect x="971.0" y="520" width="1" height="15" fill="#404040"/><rect x="969.0" y="528" width="5" height="6" fill="#404040"/><rect x="979.0" y="518" width="1" height="20" fill="#404040"/><rect x="977.0" y="533" width="5" height="3" fill="#404040"/><rect x="987.0" y="515" width="1" height="57" fill="#404040"/><rect x="985.0" y="535" width="5" height="14" fill="#404040"/><rect x="995.0" y="541" width="1" height="57" fill="#404040"/><rect x="993.0" y="548" width="5" height="19" fill="#404040"/><rect x="1003.0" y="555" width="1" height="33" fill="#404040"/><rect x="1001.0" y="566" width="5" height="20" fill="#404040"/><rect x="1011.0" y="575" width="1" height="18" fill="#0bb0d9"/><rect x="1009.5" y="580.5" width="4" height="5" fill="#fff" stroke="#0bb0d9" stroke-width="1"/><rect x="1019.0" y="576" width="1" height="12" fill="#0bb0d9"/><rect x="1017.5" y="580.5" width="4" height="3" fill="#fff" stroke="#0bb0d9" stroke-width="1"/><rect x="1027.0" y="561" width="1" height="34" fill="#0bb0d9"/><rect x="1025.5" y="564.5" width="4" height="16" fill="#fff" stroke="#0bb0d9" stroke-width="1"/><rect x="1035.0" y="564" width="1" height="35" fill="#404040"/><rect x="1033.0" y="564" width="5" height="29" fill="#404040"/><rect x="1043.0" y="551" width="1" height="72" fill="#404040"/><rect x="1041.0" y="592" width="5" height="10" fill="#404040"/><rect x="1051.0" y="552" width="1" height="59" fill="#0bb0d9"/><rect x="1049.5" y="566.5" width="4" height="35" fill="#fff" stroke="#0bb0d9" stroke-width="1"/><rect x="1059.0" y="559" width="1" height="25" fill="#404040"/><rect x="1057.0" y="566" width="5" height="18" fill="#404040"/><rect x="1067.0" y="578" width="1" height="25" fill="#0bb0d9"/><rect x="1065.5" y="579.5" width="4" height="4" fill="#fff" stroke="#0bb0d9" stroke-width="1"/><rect x="1075.0" y="567" width="1" height="20" fill="#0bb0d9"/><rect x="1073.5" y="570.5" width="4" height="9" fill="#fff" stroke="#0bb0d9" stroke-width="1"/><rect x="1083.0" y="569" width="1" height="19" fill="#404040"/><rect x="1081.0" y="569" width="5" height="14" fill="#404040"/><rect x="1091.0" y="570" width="1" height="70" fill="#404040"/><rect x="1089.0" y="582" width="5" height="43" fill="#404040"/><rect x="1099.0" y="606" width="1" height="46" fill="#0bb0d9"/><rect x="1097.5" y="616.5" width="4" height="8" fill="#fff" stroke="#0bb0d9" stroke-width="1"/><rect x="1107.0" y="583" width="1" height="35" fill="#0bb0d9"/><rect x="1105.5" y="597.5" width="4" height="20" fill="#fff" stroke="#0bb0d9" stroke-width="1"/><rect x="1115.0" y="595" width="1" height="44" fill="#0bb0d9"/><rect x="1113.0" y="596" width="5" height="1" fill="#0bb0d9"/><rect x="1123.0" y="576" width="1" height="24" fill="#0bb0d9"/><rect x="1121.5" y="579.5" width="4" height="17" fill="#fff" stroke="#0bb0d9" stroke-width="1"/><rect x="1131.0" y="578" width="1" height="23" fill="#404040"/><rect x="1129.0" y="578" width="5" height="22" fill="#404040"/><rect x="1139.0" y="556" width="1" height="46" fill="#0bb0d9"/><rect x="1137.5" y="574.5" width="4" height="25" fill="#fff" stroke="#0bb0d9" stroke-width="1"/><rect x="1147.0" y="563" width="1" height="56" fill="#404040"/><rect x="1145.0" y="573" width="5" height="37" fill="#404040"/><rect x="1155.0" y="601" width="1" height="22" fill="#0bb0d9"/><rect x="1153.5" y="607.5" width="4" height="2" fill="#fff" stroke="#0bb0d9" stroke-width="1"/><rect x="1163.0" y="601" width="1" height="46" fill="#404040"/><rect x="1161.0" y="606" width="5" height="2" fill="#404040"/><rect x="1171.0" y="603" width="1" height="15" fill="#404040"/><rect x="1169.0" y="607" width="5" height="8" fill="#404040"/><rect x="1179.0" y="597" width="1" height="20" fill="#0bb0d9"/><rect x="1177.5" y="602.5" width="4" height="12" fill="#fff" stroke="#0bb0d9" stroke-width="1"/><rect x="1187.0" y="582" width="1" height="42" fill="#0bb0d9"/><rect x="1185.5" y="589.5" width="4" height="14" fill="#fff" stroke="#0bb0d9" stroke-width="1"/><rect x="1195.0" y="559" width="1" height="32" fill="#0bb0d9"/><rect x="1193.5" y="571.5" width="4" height="18" fill="#fff" stroke="#0bb0d9" stroke-width="1"/><rect x="1203.0" y="500" width="1" height="72" fill="#0bb0d9"/><rect x="1201.5" y="512.5" width="4" height="60" fill="#fff" stroke="#0bb0d9" stroke-width="1"/><rect x="1211.0" y="504" width="1" height="45" fill="#404040"/><rect x="1209.0" y="512" width="5" height="10" fill="#404040"/><rect x="1219.0" y="507" width="1" height="18" fill="#0bb0d9"/><rect x="1217.5" y="513.5" width="4" height="8" fill="#fff" stroke="#0bb0d9" stroke-width="1"/><rect x="1227.0" y="492" width="1" height="32" fill="#404040"/><rect x="1225.0" y="512" width="5" height="2" fill="#404040"/><rect x="1235.0" y="461" width="1" height="59" fill="#0bb0d9"/><rect x="1233.5" y="473.5" width="4" height="41" fill="#fff" stroke="#0bb0d9" stroke-width="1"/><rect x="1243.0" y="469" width="1" height="42" fill="#404040"/><rect x="1241.0" y="473" width="5" height="6" fill="#404040"/><rect x="1251.0" y="473" width="1" height="30" fill="#404040"/><rect x="1249.0" y="478" width="5" height="20" fill="#404040"/><rect x="1259.0" y="491" width="1" height="19" fill="#404040"/><rect x="1257.0" y="497" width="5" height="10" fill="#404040"/><rect x="1267.0" y="493" width="1" height="12" fill="#404040"/><rect x="1265.0" y="495" width="5" height="5" fill="#404040"/><rect x="1275.0" y="479" width="1" height="23" fill="#0bb0d9"/><rect x="1273.5" y="489.5" width="4" height="9" fill="#fff" stroke="#0bb0d9" stroke-width="1"/><rect x="1283.0" y="470" width="1" height="19" fill="#0bb0d9"/><rect x="1281.5" y="477.5" width="4" height="11" fill="#fff" stroke="#0bb0d9" stroke-width="1"/><rect x="1291.0" y="469" width="1" height="55" fill="#404040"/><rect x="1289.0" y="476" width="5" height="38" fill="#404040"/><rect x="1299.0" y="471" width="1" height="86" fill="#0bb0d9"/><rect x="1297.5" y="496.5" width="4" height="17" fill="#fff" stroke="#0bb0d9" stroke-width="1"/><rect x="1307.0" y="484" width="1" height="23" fill="#0bb0d9"/><rect x="1305.5" y="484.5" width="4" height="11" fill="#fff" stroke="#0bb0d9" stroke-width="1"/><rect x="1315.0" y="481" width="1" height="48" fill="#404040"/><rect x="1313.0" y="484" width="5" height="3" fill="#404040"/><rect x="1323.0" y="466" width="1" height="24" fill="#0bb0d9"/><rect x="1321.5" y="469.5" width="4" height="17" fill="#fff" stroke="#0bb0d9" stroke-width="1"/><rect x="1331.0" y="443" width="1" height="39" fill="#0bb0d9"/><rect x="1329.5" y="448.5" width="4" height="20" fill="#fff" stroke="#0bb0d9" stroke-width="1"/><rect x="1339.0" y="410" width="1" height="43" fill="#0bb0d9"/><rect x="1337.5" y="426.5" width="4" height="23" fill="#fff" stroke="#0bb0d9" stroke-width="1"/><rect x="1347.0" y="412" width="1" height="38" fill="#404040"/><rect x="1345.0" y="427" width="5" height="6" fill="#404040"/><rect x="1355.0" y="421" width="1" height="34" fill="#404040"/><rect x="1353.0" y="432" width="5" height="9" fill="#404040"/><rect x="1363.0" y="436" width="1" height="34" fill="#404040"/><rect x="1361.0" y="440" width="5" height="17" fill="#404040"/><rect x="1371.0" y="443" width="1" height="16" fill="#0bb0d9"/><rect x="1369.0" y="455" width="5" height="2" fill="#0bb0d9"/><rect x="1379.0" y="426" width="1" height="36" fill="#0bb0d9"/><rect x="1377.5" y="442.5" width="4" height="13" fill="#fff" stroke="#0bb0d9" stroke-width="1"/><rect x="1387.0" y="421" width="1" height="23" fill="#0bb0d9"/><rect x="1385.5" y="427.5" width="4" height="15" fill="#fff" stroke="#0bb0d9" stroke-width="1"/></g>
</g>
<text x="695.20" y="306.90" font-size="15" fill="#000" font-weight="bold" textLength="59.00" lengthAdjust="spacingAndGlyphs">200 EMA</text>
<text x="690.80" y="342.20" font-size="15" fill="#00f010" font-weight="bold" textLength="58.10" lengthAdjust="spacingAndGlyphs">100 EMA</text>
<text x="689.40" y="376.20" font-size="15" fill="#ff0000" font-weight="bold" textLength="50.40" lengthAdjust="spacingAndGlyphs">50 EMA</text>
<text x="641.80" y="400.80" font-size="15" fill="#ffc000" font-weight="bold" textLength="49.90" lengthAdjust="spacingAndGlyphs">21 EMA</text>
<text x="1733.75" y="270.50" font-size="14.4" fill="#1db3e0" font-weight="bold" textLength="52.00" lengthAdjust="spacingAndGlyphs">~0.8584</text>
<text x="1735.00" y="345.50" font-size="14.4" fill="#1db3e0" font-weight="bold" textLength="52.50" lengthAdjust="spacingAndGlyphs">~0.8558</text>
<text x="1734.50" y="407.00" font-size="14.4" fill="#1db3e0" font-weight="bold" textLength="52.25" lengthAdjust="spacingAndGlyphs">~0.8536</text>
<text x="1735.75" y="465.50" font-size="14.4" fill="#4c5966" font-weight="bold" textLength="52.25" lengthAdjust="spacingAndGlyphs">~0.8515</text>
<text x="1736.00" y="526.00" font-size="14.4" fill="#4c5966" font-weight="bold" textLength="52.50" lengthAdjust="spacingAndGlyphs">~0.8494</text>
<text x="1736.00" y="553.00" font-size="14.4" fill="#4c5966" font-weight="bold" textLength="52.25" lengthAdjust="spacingAndGlyphs">~0.8484</text>
<text x="1737.00" y="621.75" font-size="14.4" fill="#4c5966" font-weight="bold" textLength="52.25" lengthAdjust="spacingAndGlyphs">~0.8460</text>
<text x="1737.00" y="648.75" font-size="14.4" fill="#4c5966" font-weight="bold" textLength="52.25" lengthAdjust="spacingAndGlyphs">~0.8450</text>
<g font-weight="bold" fill="url(#lg)" font-size="67.2">
<g clip-path="url(#cj)"><g filter="url(#thick)"><text x="0" y="77.2" transform="translate(211.5,0) scale(.526,1)">J</text></g></g>
<text x="0" y="77.6" transform="translate(233.2,0) scale(.92,1)">F</text>
<g clip-path="url(#cd)"><text x="264.3" y="77.6">D</text></g>
</g>
<rect x="275" y="31.2" width="2" height="46.4" fill="url(#lg)"/>
<rect x="272.6" y="46.9" width="6.8" height="14.6" fill="url(#lg)"/>
<g fill="#444" shape-rendering="crispEdges">
<rect x="2" y="2" width="1869" height="1"/>
<rect x="2" y="2" width="1" height="668"/>
<rect x="2" y="669" width="1869" height="1"/>
<rect x="2" y="671" width="1869" height="1"/>
<rect x="2" y="671" width="1" height="126"/>
<rect x="2" y="796" width="1869" height="1"/>
<rect x="2" y="798" width="1869" height="1"/>
<rect x="2" y="798" width="1" height="118"/>
<rect x="2" y="915" width="1869" height="1"/>
<rect x="1870" y="2" width="1" height="668"/>
<rect x="1870" y="671" width="1" height="126"/>
<rect x="1870" y="798" width="1" height="118"/>
<rect x="1871" y="669" width="1" height="1"/>
<rect x="1871" y="671" width="1" height="1"/>
<rect x="1871" y="796" width="1" height="1"/>
<rect x="1871" y="798" width="1" height="1"/>
<rect x="1871" y="915" width="1" height="1"/>
</g>
<polygon points="6,9.4 13,9.4 9.5,13" fill="#333"/>
<text x="18.50" y="13.60" font-size="9.2" fill="#262626" class="s" textLength="52.00" lengthAdjust="spacingAndGlyphs">EURGBP,H4</text>
<text x="77.25" y="13.60" font-size="9.2" fill="#262626" class="s" textLength="140.25" lengthAdjust="spacingAndGlyphs">0.85246 0.85322 0.85242 0.85300</text>
<text x="7.50" y="684.00" font-size="9.2" fill="#262626" class="s" textLength="67.00" lengthAdjust="spacingAndGlyphs">RSI(14) 65.6051</text>
<text x="7.50" y="810.80" font-size="9.2" fill="#262626" class="s" textLength="147.30" lengthAdjust="spacingAndGlyphs">MACD(12,26,9) 0.000950 0.000920</text>
<g fill="#444" shape-rendering="crispEdges"><rect x="1871" y="30" width="2" height="1"/><rect x="1871" y="64" width="2" height="1"/><rect x="1871" y="97" width="2" height="1"/><rect x="1871" y="130" width="2" height="1"/><rect x="1871" y="163" width="2" height="1"/><rect x="1871" y="197" width="2" height="1"/><rect x="1871" y="231" width="2" height="1"/><rect x="1871" y="264" width="2" height="1"/><rect x="1871" y="298" width="2" height="1"/><rect x="1871" y="332" width="2" height="1"/><rect x="1871" y="365" width="2" height="1"/><rect x="1871" y="399" width="2" height="1"/><rect x="1871" y="433" width="2" height="1"/><rect x="1871" y="466" width="2" height="1"/><rect x="1871" y="500" width="2" height="1"/><rect x="1871" y="534" width="2" height="1"/><rect x="1871" y="567" width="2" height="1"/><rect x="1871" y="600" width="2" height="1"/><rect x="1871" y="633" width="2" height="1"/><rect x="1871" y="666" width="2" height="1"/></g>
<text x="1876.00" y="34.10" font-size="9.2" fill="#262626" class="s" textLength="33.20" lengthAdjust="spacingAndGlyphs">0.86715</text>
<text x="1876.00" y="68.10" font-size="9.2" fill="#262626" class="s" textLength="33.20" lengthAdjust="spacingAndGlyphs">0.86595</text>
<text x="1876.00" y="100.60" font-size="9.2" fill="#262626" class="s" textLength="33.20" lengthAdjust="spacingAndGlyphs">0.86475</text>
<text x="1876.00" y="134.10" font-size="9.2" fill="#262626" class="s" textLength="33.20" lengthAdjust="spacingAndGlyphs">0.86360</text>
<text x="1876.00" y="166.85" font-size="9.2" fill="#262626" class="s" textLength="33.20" lengthAdjust="spacingAndGlyphs">0.86240</text>
<text x="1876.00" y="201.10" font-size="9.2" fill="#262626" class="s" textLength="33.20" lengthAdjust="spacingAndGlyphs">0.86120</text>
<text x="1876.00" y="234.60" font-size="9.2" fill="#262626" class="s" textLength="33.20" lengthAdjust="spacingAndGlyphs">0.86000</text>
<text x="1876.00" y="268.10" font-size="9.2" fill="#262626" class="s" textLength="33.20" lengthAdjust="spacingAndGlyphs">0.85880</text>
<text x="1876.00" y="302.10" font-size="9.2" fill="#262626" class="s" textLength="33.20" lengthAdjust="spacingAndGlyphs">0.85760</text>
<text x="1876.00" y="335.85" font-size="9.2" fill="#262626" class="s" textLength="33.20" lengthAdjust="spacingAndGlyphs">0.85640</text>
<text x="1876.00" y="369.10" font-size="9.2" fill="#262626" class="s" textLength="33.20" lengthAdjust="spacingAndGlyphs">0.85520</text>
<text x="1876.00" y="403.00" font-size="9.2" fill="#262626" class="s" textLength="33.20" lengthAdjust="spacingAndGlyphs">0.85400</text>
<text x="1876.00" y="436.60" font-size="9.2" fill="#262626" class="s" textLength="33.20" lengthAdjust="spacingAndGlyphs">0.85280</text>
<text x="1876.00" y="470.10" font-size="9.2" fill="#262626" class="s" textLength="33.20" lengthAdjust="spacingAndGlyphs">0.85160</text>
<text x="1876.00" y="504.10" font-size="9.2" fill="#262626" class="s" textLength="33.20" lengthAdjust="spacingAndGlyphs">0.85040</text>
<text x="1876.00" y="538.10" font-size="9.2" fill="#262626" class="s" textLength="33.20" lengthAdjust="spacingAndGlyphs">0.84920</text>
<text x="1876.00" y="571.10" font-size="9.2" fill="#262626" class="s" textLength="33.20" lengthAdjust="spacingAndGlyphs">0.84800</text>
<text x="1876.00" y="604.10" font-size="9.2" fill="#262626" class="s" textLength="33.20" lengthAdjust="spacingAndGlyphs">0.84685</text>
<text x="1876.00" y="637.10" font-size="9.2" fill="#262626" class="s" textLength="33.20" lengthAdjust="spacingAndGlyphs">0.84565</text>
<text x="1876.00" y="670.20" font-size="9.2" fill="#262626" class="s" textLength="33.20" lengthAdjust="spacingAndGlyphs">0.84450</text>
<rect x="1872" y="270.0" width="41" height="11" fill="#000"/>
<text x="1876.00" y="279.10" font-size="9.2" fill="#fff" class="s" textLength="33.20" lengthAdjust="spacingAndGlyphs">0.85840</text>
<rect x="1872" y="343.0" width="41" height="11" fill="#000"/>
<text x="1876.00" y="352.10" font-size="9.2" fill="#fff" class="s" textLength="33.20" lengthAdjust="spacingAndGlyphs">0.85580</text>
<rect x="1872" y="404.0" width="41" height="11" fill="#000"/>
<text x="1876.00" y="413.10" font-size="9.2" fill="#fff" class="s" textLength="33.20" lengthAdjust="spacingAndGlyphs">0.85360</text>
<rect x="1872" y="422.0" width="41" height="11" fill="#444"/>
<text x="1876.00" y="431.10" font-size="9.2" fill="#fff" class="s" textLength="33.20" lengthAdjust="spacingAndGlyphs">0.85300</text>
<rect x="1872" y="463.0" width="41" height="11" fill="#000"/>
<text x="1876.00" y="472.10" font-size="9.2" fill="#fff" class="s" textLength="33.20" lengthAdjust="spacingAndGlyphs">0.85150</text>
<rect x="1872" y="522.0" width="41" height="11" fill="#000"/>
<text x="1876.00" y="531.10" font-size="9.2" fill="#fff" class="s" textLength="33.20" lengthAdjust="spacingAndGlyphs">0.84940</text>
<rect x="1872" y="550.0" width="41" height="11" fill="#000"/>
<text x="1876.00" y="559.10" font-size="9.2" fill="#fff" class="s" textLength="33.20" lengthAdjust="spacingAndGlyphs">0.84840</text>
<rect x="1872" y="618.0" width="41" height="11" fill="#000"/>
<text x="1876.00" y="627.10" font-size="9.2" fill="#fff" class="s" textLength="33.20" lengthAdjust="spacingAndGlyphs">0.84600</text>
<rect x="1872" y="646.0" width="41" height="11" fill="#000"/>
<text x="1876.00" y="655.10" font-size="9.2" fill="#fff" class="s" textLength="33.20" lengthAdjust="spacingAndGlyphs">0.84500</text>
<g shape-rendering="crispEdges">
<line x1="4" y1="697.5" x2="1869" y2="697.5" stroke="#c0c0c0" stroke-width="1" stroke-dasharray="3 3"/>
<line x1="4" y1="771.5" x2="1869" y2="771.5" stroke="#c0c0c0" stroke-width="1" stroke-dasharray="3 3"/>
</g>
<polyline fill="none" stroke="#00aedb" stroke-width="1" shape-rendering="crispEdges" points="3.50,734.44 11.50,745.90 19.50,749.62 27.50,749.62 35.50,749.62 43.50,750.48 51.50,743.32 59.50,747.33 67.50,743.04 75.50,745.33 83.50,747.62 91.50,744.47 99.50,740.17 107.50,744.75 115.50,752.49 123.50,750.19 131.50,751.34 139.50,754.78 147.50,757.64 155.50,747.62 163.50,736.16 171.50,736.16 179.50,729.29 187.50,737.59 195.50,746.19 203.50,741.89 211.50,730.15 219.50,734.44 227.50,735.59 235.50,730.15 243.50,731.29 251.50,724.13 259.50,719.26 267.50,720.41 275.50,718.41 283.50,716.69 291.50,719.55 299.50,714.68 307.50,703.23 315.50,705.52 323.50,708.38 331.50,711.53 339.50,707.52 347.50,704.37 355.50,709.24 363.50,708.38 371.50,709.53 379.50,708.38 387.50,715.25 395.50,711.53 403.50,728.72 411.50,736.45 419.50,738.45 427.50,735.59 435.50,741.89 443.50,748.48 451.50,747.33 459.50,754.20 467.50,752.20 475.50,750.19 483.50,746.19 491.50,745.33 499.50,749.62 507.50,746.76 515.50,745.33 523.50,746.19 531.50,742.46 539.50,743.32 547.50,746.19 555.50,752.20 563.50,751.05 571.50,753.35 579.50,751.34 587.50,754.49 595.50,744.75 603.50,754.78 611.50,757.35 619.50,757.64 627.50,755.35 635.50,757.64 643.50,760.22 651.50,756.78 659.50,752.49 667.50,749.62 675.50,750.48 683.50,753.35 691.50,754.20 699.50,756.50 707.50,748.76 715.50,747.33 723.50,746.19 731.50,740.46 739.50,741.60 747.50,733.87 755.50,727.28 763.50,730.43 771.50,726.14 779.50,721.84 787.50,725.57 795.50,715.25 803.50,722.99 811.50,724.42 819.50,721.84 827.50,724.99 835.50,727.28 843.50,738.17 851.50,733.58 859.50,742.18 867.50,738.17 875.50,741.03 883.50,744.75 891.50,748.48 899.50,748.48 907.50,739.03 915.50,738.74 923.50,739.03 931.50,743.89 939.50,751.63 947.50,757.35 955.50,758.50 963.50,758.50 971.50,759.65 979.50,759.65 987.50,762.51 995.50,765.37 1003.50,768.52 1011.50,766.52 1019.50,766.52 1027.50,757.64 1035.50,763.37 1043.50,765.66 1051.50,749.34 1059.50,753.35 1067.50,751.34 1075.50,747.33 1083.50,750.77 1091.50,759.65 1099.50,756.21 1107.50,748.48 1115.50,748.48 1123.50,742.46 1131.50,747.33 1139.50,738.17 1147.50,747.62 1155.50,746.19 1163.50,746.19 1171.50,748.48 1179.50,743.89 1187.50,738.74 1195.50,733.58 1203.50,718.12 1211.50,721.56 1219.50,719.55 1227.50,720.41 1235.50,712.39 1243.50,713.54 1251.50,719.84 1259.50,723.56 1267.50,722.41 1275.50,719.55 1283.50,716.69 1291.50,729.00 1299.50,724.99 1307.50,722.13 1315.50,723.27 1323.50,719.84 1331.50,715.25 1339.50,710.39 1347.50,712.39 1355.50,716.40 1363.50,722.13 1371.50,722.13 1379.50,718.41 1387.50,715.25"/>
<text x="1873.50" y="682.30" font-size="9.2" fill="#262626" class="s" textLength="15.07" lengthAdjust="spacingAndGlyphs">100</text>
<text x="1873.50" y="701.10" font-size="9.2" fill="#262626" class="s" textLength="10.05" lengthAdjust="spacingAndGlyphs">80</text>
<text x="1873.50" y="775.10" font-size="9.2" fill="#262626" class="s" textLength="10.05" lengthAdjust="spacingAndGlyphs">20</text>
<text x="1873.50" y="793.10" font-size="9.2" fill="#262626" class="s" textLength="5.02" lengthAdjust="spacingAndGlyphs">0</text>
<g fill="#00aedb" shape-rendering="crispEdges"><rect x="3" y="857" width="1" height="10"/><rect x="11" y="866" width="1" height="1"/><rect x="19" y="866" width="1" height="2"/><rect x="27" y="866" width="1" height="8"/><rect x="35" y="866" width="1" height="12"/><rect x="43" y="866" width="1" height="15"/><rect x="51" y="866" width="1" height="15"/><rect x="59" y="866" width="1" height="17"/><rect x="67" y="866" width="1" height="18"/><rect x="75" y="866" width="1" height="20"/><rect x="83" y="866" width="1" height="21"/><rect x="91" y="866" width="1" height="21"/><rect x="99" y="866" width="1" height="19"/><rect x="107" y="866" width="1" height="20"/><rect x="115" y="866" width="1" height="22"/><rect x="123" y="866" width="1" height="24"/><rect x="131" y="866" width="1" height="25"/><rect x="139" y="866" width="1" height="28"/><rect x="147" y="866" width="1" height="31"/><rect x="155" y="866" width="1" height="30"/><rect x="163" y="866" width="1" height="25"/><rect x="171" y="866" width="1" height="23"/><rect x="179" y="866" width="1" height="16"/><rect x="187" y="866" width="1" height="15"/><rect x="195" y="866" width="1" height="17"/><rect x="203" y="866" width="1" height="17"/><rect x="211" y="866" width="1" height="13"/><rect x="219" y="866" width="1" height="10"/><rect x="227" y="866" width="1" height="10"/><rect x="235" y="866" width="1" height="7"/><rect x="243" y="866" width="1" height="4"/><rect x="251" y="866" width="1" height="1"/><rect x="259" y="860" width="1" height="7"/><rect x="267" y="856" width="1" height="11"/><rect x="275" y="852" width="1" height="15"/><rect x="283" y="847" width="1" height="20"/><rect x="291" y="845" width="1" height="22"/><rect x="299" y="842" width="1" height="25"/><rect x="307" y="831" width="1" height="36"/><rect x="315" y="824" width="1" height="43"/><rect x="323" y="820" width="1" height="47"/><rect x="331" y="818" width="1" height="49"/><rect x="339" y="813" width="1" height="54"/><rect x="347" y="809" width="1" height="58"/><rect x="355" y="807" width="1" height="60"/><rect x="363" y="806" width="1" height="61"/><rect x="371" y="806" width="1" height="61"/><rect x="379" y="806" width="1" height="61"/><rect x="387" y="808" width="1" height="59"/><rect x="395" y="808" width="1" height="59"/><rect x="403" y="815" width="1" height="52"/><rect x="411" y="824" width="1" height="43"/><rect x="419" y="833" width="1" height="34"/><rect x="427" y="839" width="1" height="28"/><rect x="435" y="847" width="1" height="20"/><rect x="443" y="857" width="1" height="10"/><rect x="451" y="864" width="1" height="3"/><rect x="459" y="866" width="1" height="8"/><rect x="467" y="866" width="1" height="15"/><rect x="475" y="866" width="1" height="21"/><rect x="483" y="866" width="1" height="23"/><rect x="491" y="866" width="1" height="23"/><rect x="499" y="866" width="1" height="27"/><rect x="507" y="866" width="1" height="27"/><rect x="515" y="866" width="1" height="26"/><rect x="523" y="866" width="1" height="27"/><rect x="531" y="866" width="1" height="25"/><rect x="539" y="866" width="1" height="25"/><rect x="547" y="866" width="1" height="25"/><rect x="555" y="866" width="1" height="27"/><rect x="563" y="866" width="1" height="28"/><rect x="571" y="866" width="1" height="30"/><rect x="579" y="866" width="1" height="31"/><rect x="587" y="866" width="1" height="32"/><rect x="595" y="866" width="1" height="30"/><rect x="603" y="866" width="1" height="34"/><rect x="611" y="866" width="1" height="37"/><rect x="619" y="866" width="1" height="39"/><rect x="627" y="866" width="1" height="40"/><rect x="635" y="866" width="1" height="41"/><rect x="643" y="866" width="1" height="43"/><rect x="651" y="866" width="1" height="43"/><rect x="659" y="866" width="1" height="41"/><rect x="667" y="866" width="1" height="40"/><rect x="675" y="866" width="1" height="38"/><rect x="683" y="866" width="1" height="37"/><rect x="691" y="866" width="1" height="36"/><rect x="699" y="866" width="1" height="36"/><rect x="707" y="866" width="1" height="33"/><rect x="715" y="866" width="1" height="31"/><rect x="723" y="866" width="1" height="29"/><rect x="731" y="866" width="1" height="25"/><rect x="739" y="866" width="1" height="23"/><rect x="747" y="866" width="1" height="18"/><rect x="755" y="866" width="1" height="14"/><rect x="763" y="866" width="1" height="10"/><rect x="771" y="866" width="1" height="7"/><rect x="779" y="866" width="1" height="2"/><rect x="787" y="866" width="1" height="1"/><rect x="795" y="863" width="1" height="4"/><rect x="803" y="861" width="1" height="6"/><rect x="811" y="859" width="1" height="8"/><rect x="819" y="857" width="1" height="10"/><rect x="827" y="857" width="1" height="10"/><rect x="835" y="857" width="1" height="10"/><rect x="843" y="860" width="1" height="7"/><rect x="851" y="860" width="1" height="7"/><rect x="859" y="863" width="1" height="4"/><rect x="867" y="865" width="1" height="2"/><rect x="875" y="866" width="1" height="1"/><rect x="883" y="866" width="1" height="2"/><rect x="891" y="866" width="1" height="6"/><rect x="899" y="866" width="1" height="8"/><rect x="907" y="866" width="1" height="8"/><rect x="915" y="866" width="1" height="8"/><rect x="923" y="866" width="1" height="7"/><rect x="931" y="866" width="1" height="8"/><rect x="939" y="866" width="1" height="10"/><rect x="947" y="866" width="1" height="15"/><rect x="955" y="866" width="1" height="18"/><rect x="963" y="866" width="1" height="20"/><rect x="971" y="866" width="1" height="22"/><rect x="979" y="866" width="1" height="23"/><rect x="987" y="866" width="1" height="25"/><rect x="995" y="866" width="1" height="28"/><rect x="1003" y="866" width="1" height="30"/><rect x="1011" y="866" width="1" height="32"/><rect x="1019" y="866" width="1" height="33"/><rect x="1027" y="866" width="1" height="32"/><rect x="1035" y="866" width="1" height="33"/><rect x="1043" y="866" width="1" height="33"/><rect x="1051" y="866" width="1" height="31"/><rect x="1059" y="866" width="1" height="30"/><rect x="1067" y="866" width="1" height="28"/><rect x="1075" y="866" width="1" height="26"/><rect x="1083" y="866" width="1" height="25"/><rect x="1091" y="866" width="1" height="28"/><rect x="1099" y="866" width="1" height="28"/><rect x="1107" y="866" width="1" height="26"/><rect x="1115" y="866" width="1" height="25"/><rect x="1123" y="866" width="1" height="23"/><rect x="1131" y="866" width="1" height="22"/><rect x="1139" y="866" width="1" height="20"/><rect x="1147" y="866" width="1" height="20"/><rect x="1155" y="866" width="1" height="19"/><rect x="1163" y="866" width="1" height="18"/><rect x="1171" y="866" width="1" height="18"/><rect x="1179" y="866" width="1" height="17"/><rect x="1187" y="866" width="1" height="15"/><rect x="1195" y="866" width="1" height="12"/><rect x="1203" y="866" width="1" height="6"/><rect x="1211" y="866" width="1" height="1"/><rect x="1219" y="866" width="1" height="1"/><rect x="1227" y="863" width="1" height="4"/><rect x="1235" y="857" width="1" height="10"/><rect x="1243" y="854" width="1" height="13"/><rect x="1251" y="853" width="1" height="14"/><rect x="1259" y="852" width="1" height="15"/><rect x="1267" y="852" width="1" height="15"/><rect x="1275" y="851" width="1" height="16"/><rect x="1283" y="849" width="1" height="18"/><rect x="1291" y="851" width="1" height="16"/><rect x="1299" y="851" width="1" height="16"/><rect x="1307" y="851" width="1" height="16"/><rect x="1315" y="851" width="1" height="16"/><rect x="1323" y="849" width="1" height="18"/><rect x="1331" y="848" width="1" height="19"/><rect x="1339" y="845" width="1" height="22"/><rect x="1347" y="843" width="1" height="24"/><rect x="1355" y="843" width="1" height="24"/><rect x="1363" y="844" width="1" height="23"/><rect x="1371" y="845" width="1" height="22"/><rect x="1379" y="845" width="1" height="22"/><rect x="1387" y="845" width="1" height="22"/></g>
<path fill="none" stroke="#000" stroke-width="1" shape-rendering="crispEdges" d="M2.86,862.17C4.30,861.79 8.69,860.41 11.46,859.88C14.22,859.36 16.85,859.02 19.47,859.02C22.10,859.02 24.58,859.36 27.21,859.88C29.83,860.41 32.60,861.22 35.23,862.17C37.85,863.13 40.24,864.56 42.96,865.61C45.68,866.66 48.83,867.38 51.55,868.48C54.27,869.57 56.66,871.01 59.28,872.20C61.91,873.39 64.63,874.54 67.30,875.64C69.98,876.73 72.65,877.78 75.32,878.79C77.99,879.79 80.67,880.89 83.34,881.65C86.01,882.41 88.69,882.84 91.36,883.37C94.03,883.89 95.37,884.27 99.38,884.80C103.39,885.32 110.07,885.99 115.42,886.52C120.76,887.04 126.11,887.38 131.45,887.95C136.80,888.52 142.15,889.38 147.49,889.95C152.84,890.53 158.18,891.15 163.53,891.39C168.88,891.63 174.22,891.58 179.57,891.39C184.91,891.20 191.60,890.62 195.61,890.24C199.62,889.86 199.62,890.00 203.63,889.10C207.64,888.19 214.32,886.18 219.66,884.80C225.01,883.42 230.36,882.08 235.70,880.79C241.05,879.50 246.39,878.74 251.74,877.07C257.09,875.40 262.43,872.91 267.78,870.77C273.12,868.62 278.47,866.71 283.82,864.18C289.16,861.65 294.51,858.59 299.85,855.59C305.20,852.58 310.55,849.33 315.89,846.14C321.24,842.94 326.58,839.55 331.93,836.40C337.28,833.25 342.62,830.24 347.97,827.23C353.31,824.23 358.66,821.03 364.01,818.36C369.35,815.68 374.70,812.87 380.04,811.20C385.39,809.53 391.64,808.81 396.08,808.33C400.52,807.86 402.67,807.86 406.68,808.33C410.69,808.81 415.22,809.38 420.14,811.20C425.06,813.01 430.83,816.11 436.18,819.22C441.52,822.32 447.59,826.14 452.22,829.81C456.85,833.49 460.18,836.97 463.96,841.27C467.73,845.56 472.82,852.96 474.87,855.59C476.27,858.21 474.94,855.68 476.27,857.02C477.61,858.36 480.45,861.46 482.89,863.61C485.33,865.75 488.23,867.66 490.91,869.91C493.58,872.15 496.25,875.01 498.93,877.07C501.60,879.12 504.27,880.79 506.94,882.22C509.62,883.65 512.29,884.61 514.96,885.66C517.64,886.71 520.31,887.76 522.98,888.52C525.66,889.29 528.33,889.76 531.00,890.24C533.67,890.72 536.35,891.05 539.02,891.39C541.69,891.72 544.37,892.01 547.04,892.25C549.71,892.48 552.39,892.58 555.06,892.82C557.73,893.06 560.40,893.53 563.08,893.68C565.75,893.82 568.42,893.53 571.10,893.68C573.77,893.82 576.44,894.39 579.12,894.54C581.79,894.68 584.46,894.35 587.13,894.54C589.81,894.73 592.48,895.35 595.15,895.68C597.83,896.02 600.50,896.21 603.17,896.54C605.85,896.88 608.52,897.35 611.19,897.69C613.86,898.02 616.54,898.07 619.21,898.55C621.88,899.02 624.56,900.07 627.23,900.55C629.90,901.03 632.58,900.93 635.25,901.41C637.92,901.89 640.60,902.94 643.27,903.42C645.94,903.89 648.61,903.94 651.29,904.27C653.96,904.61 656.63,905.09 659.31,905.42C661.98,905.75 663.32,906.14 667.33,906.28C671.33,906.42 678.02,906.28 683.36,906.28C688.71,906.28 695.39,906.47 699.40,906.28C703.41,906.09 704.75,905.71 707.42,905.13C710.09,904.56 712.77,903.42 715.44,902.84C718.11,902.27 719.45,902.51 723.46,901.70C727.47,900.89 734.15,899.21 739.50,897.97C744.84,896.73 750.19,895.92 755.53,894.25C760.88,892.58 766.23,890.10 771.57,887.95C776.92,885.80 782.26,883.56 787.61,881.36C792.96,879.17 798.30,876.92 803.65,874.78C808.99,872.63 814.34,870.48 819.69,868.48C825.03,866.47 830.38,864.27 835.72,862.75C841.07,861.22 846.42,859.88 851.76,859.31C857.11,858.74 862.45,858.98 867.80,859.31C873.15,859.64 878.49,860.36 883.84,861.32C889.18,862.27 894.53,863.99 899.88,865.04C905.22,866.09 910.57,866.66 915.91,867.62C921.26,868.57 926.79,869.67 931.95,870.77C937.11,871.86 944.20,873.63 946.87,874.20C947.99,874.78 946.87,873.82 947.99,874.20C949.33,874.59 952.41,875.87 954.89,876.49C957.38,877.11 960.24,877.35 962.91,877.93C965.58,878.50 968.26,879.26 970.93,879.93C973.60,880.60 976.28,881.27 978.95,881.94C981.62,882.60 984.30,883.22 986.97,883.94C989.64,884.66 992.31,885.42 994.99,886.23C997.66,887.04 1000.33,888.05 1003.01,888.81C1005.68,889.57 1008.35,890.15 1011.03,890.81C1013.70,891.48 1016.37,892.25 1019.04,892.82C1021.72,893.39 1024.39,893.73 1027.06,894.25C1029.74,894.78 1032.41,895.49 1035.08,895.97C1037.76,896.45 1040.43,896.88 1043.10,897.11C1045.77,897.35 1048.45,897.35 1051.12,897.40C1053.79,897.45 1056.47,897.26 1059.14,897.40C1061.81,897.54 1064.49,898.26 1067.16,898.26C1069.83,898.26 1072.50,897.54 1075.18,897.40C1077.85,897.26 1080.52,897.50 1083.20,897.40C1085.87,897.31 1088.54,896.97 1091.22,896.83C1093.89,896.69 1096.56,896.78 1099.23,896.54C1101.91,896.30 1104.58,895.78 1107.25,895.40C1109.93,895.01 1111.26,894.58 1115.27,894.25C1119.28,893.92 1125.96,893.92 1131.31,893.39C1136.66,892.87 1142.00,891.77 1147.35,891.10C1152.69,890.43 1158.04,890.00 1163.39,889.38C1168.73,888.76 1174.08,888.09 1179.42,887.38C1184.77,886.66 1190.12,886.09 1195.46,885.09C1200.81,884.08 1207.49,882.32 1211.50,881.36C1215.51,880.41 1216.85,880.17 1219.52,879.36C1222.19,878.55 1224.87,877.59 1227.54,876.49C1230.21,875.40 1232.89,874.11 1235.56,872.77C1238.23,871.43 1240.90,869.76 1243.58,868.48C1246.25,867.19 1248.92,866.14 1251.60,865.04C1254.27,863.94 1256.94,862.89 1259.62,861.89C1262.29,860.89 1264.96,859.98 1267.63,859.02C1270.31,858.07 1272.98,856.97 1275.65,856.16C1278.33,855.35 1281.00,854.78 1283.67,854.16C1286.35,853.54 1289.02,852.91 1291.69,852.44C1294.36,851.96 1297.04,851.63 1299.71,851.29C1302.38,850.96 1303.72,850.58 1307.73,850.43C1311.74,850.29 1318.42,850.62 1323.77,850.43C1329.11,850.24 1335.80,849.62 1339.81,849.29C1343.81,848.95 1345.15,848.76 1347.82,848.43C1350.50,848.09 1353.17,847.62 1355.84,847.28C1358.52,846.95 1361.19,846.57 1363.86,846.42C1366.54,846.28 1369.21,846.57 1371.88,846.42C1374.55,846.28 1377.42,845.90 1379.90,845.56C1382.38,845.23 1385.63,844.61 1386.77,844.42"/>
<text x="1873.50" y="808.85" font-size="9.2" fill="#262626" class="s" textLength="37.95" lengthAdjust="spacingAndGlyphs">0.002837</text>
<text x="1873.50" y="870.10" font-size="9.2" fill="#262626" class="s" textLength="17.86" lengthAdjust="spacingAndGlyphs">0.00</text>
<text x="1873.50" y="912.35" font-size="9.2" fill="#262626" class="s" textLength="41.29" lengthAdjust="spacingAndGlyphs">-0.002074</text>
<rect x="1871" y="866" width="2" height="1" fill="#444"/>
<g fill="#444" shape-rendering="crispEdges"><rect x="3" y="916" width="1" height="3"/><rect x="67" y="916" width="1" height="3"/><rect x="131" y="916" width="1" height="3"/><rect x="195" y="916" width="1" height="3"/><rect x="259" y="916" width="1" height="3"/><rect x="323" y="916" width="1" height="3"/><rect x="387" y="916" width="1" height="3"/><rect x="451" y="916" width="1" height="3"/><rect x="515" y="916" width="1" height="3"/><rect x="579" y="916" width="1" height="3"/><rect x="643" y="916" width="1" height="3"/><rect x="707" y="916" width="1" height="3"/><rect x="771" y="916" width="1" height="3"/><rect x="835" y="916" width="1" height="3"/><rect x="899" y="916" width="1" height="3"/><rect x="963" y="916" width="1" height="3"/><rect x="1027" y="916" width="1" height="3"/><rect x="1091" y="916" width="1" height="3"/><rect x="1155" y="916" width="1" height="3"/><rect x="1219" y="916" width="1" height="3"/><rect x="1283" y="916" width="1" height="3"/><rect x="1347" y="916" width="1" height="3"/></g>
<text x="2.30" y="927.80" font-size="9.2" fill="#262626" class="s" textLength="41.17" lengthAdjust="spacingAndGlyphs">9 Jul 2021</text>
<text x="66.30" y="927.80" font-size="9.2" fill="#262626" class="s" textLength="49.29" lengthAdjust="spacingAndGlyphs">12 Jul 16:00</text>
<text x="130.30" y="927.80" font-size="9.2" fill="#262626" class="s" textLength="49.29" lengthAdjust="spacingAndGlyphs">14 Jul 00:00</text>
<text x="194.30" y="927.80" font-size="9.2" fill="#262626" class="s" textLength="49.29" lengthAdjust="spacingAndGlyphs">15 Jul 08:00</text>
<text x="258.30" y="927.80" font-size="9.2" fill="#262626" class="s" textLength="49.29" lengthAdjust="spacingAndGlyphs">16 Jul 16:00</text>
<text x="322.30" y="927.80" font-size="9.2" fill="#262626" class="s" textLength="49.29" lengthAdjust="spacingAndGlyphs">19 Jul 20:00</text>
<text x="386.30" y="927.80" font-size="9.2" fill="#262626" class="s" textLength="49.29" lengthAdjust="spacingAndGlyphs">21 Jul 04:00</text>
<text x="450.30" y="927.80" font-size="9.2" fill="#262626" class="s" textLength="49.29" lengthAdjust="spacingAndGlyphs">22 Jul 12:00</text>
<text x="514.30" y="927.80" font-size="9.2" fill="#262626" class="s" textLength="49.29" lengthAdjust="spacingAndGlyphs">23 Jul 20:00</text>
<text x="578.30" y="927.80" font-size="9.2" fill="#262626" class="s" textLength="49.29" lengthAdjust="spacingAndGlyphs">27 Jul 00:00</text>
<text x="642.30" y="927.80" font-size="9.2" fill="#262626" class="s" textLength="49.29" lengthAdjust="spacingAndGlyphs">28 Jul 08:00</text>
<text x="706.30" y="927.80" font-size="9.2" fill="#262626" class="s" textLength="49.29" lengthAdjust="spacingAndGlyphs">29 Jul 16:00</text>
<text x="770.30" y="927.80" font-size="9.2" fill="#262626" class="s" textLength="48.95" lengthAdjust="spacingAndGlyphs">1 Aug 23:05</text>
<text x="834.30" y="927.80" font-size="9.2" fill="#262626" class="s" textLength="48.95" lengthAdjust="spacingAndGlyphs">3 Aug 04:00</text>
<text x="898.30" y="927.80" font-size="9.2" fill="#262626" class="s" textLength="48.95" lengthAdjust="spacingAndGlyphs">4 Aug 12:00</text>
<text x="962.30" y="927.80" font-size="9.2" fill="#262626" class="s" textLength="48.95" lengthAdjust="spacingAndGlyphs">5 Aug 20:00</text>
<text x="1026.30" y="927.80" font-size="9.2" fill="#262626" class="s" textLength="48.95" lengthAdjust="spacingAndGlyphs">9 Aug 00:00</text>
<text x="1090.30" y="927.80" font-size="9.2" fill="#262626" class="s" textLength="53.88" lengthAdjust="spacingAndGlyphs">10 Aug 08:00</text>
<text x="1154.30" y="927.80" font-size="9.2" fill="#262626" class="s" textLength="53.88" lengthAdjust="spacingAndGlyphs">11 Aug 16:00</text>
<text x="1218.30" y="927.80" font-size="9.2" fill="#262626" class="s" textLength="53.88" lengthAdjust="spacingAndGlyphs">13 Aug 00:00</text>
<text x="1282.30" y="927.80" font-size="9.2" fill="#262626" class="s" textLength="53.88" lengthAdjust="spacingAndGlyphs">16 Aug 04:00</text>
<text x="1346.30" y="927.80" font-size="9.2" fill="#262626" class="s" textLength="53.88" lengthAdjust="spacingAndGlyphs">17 Aug 12:00</text>
</svg></body></html>
